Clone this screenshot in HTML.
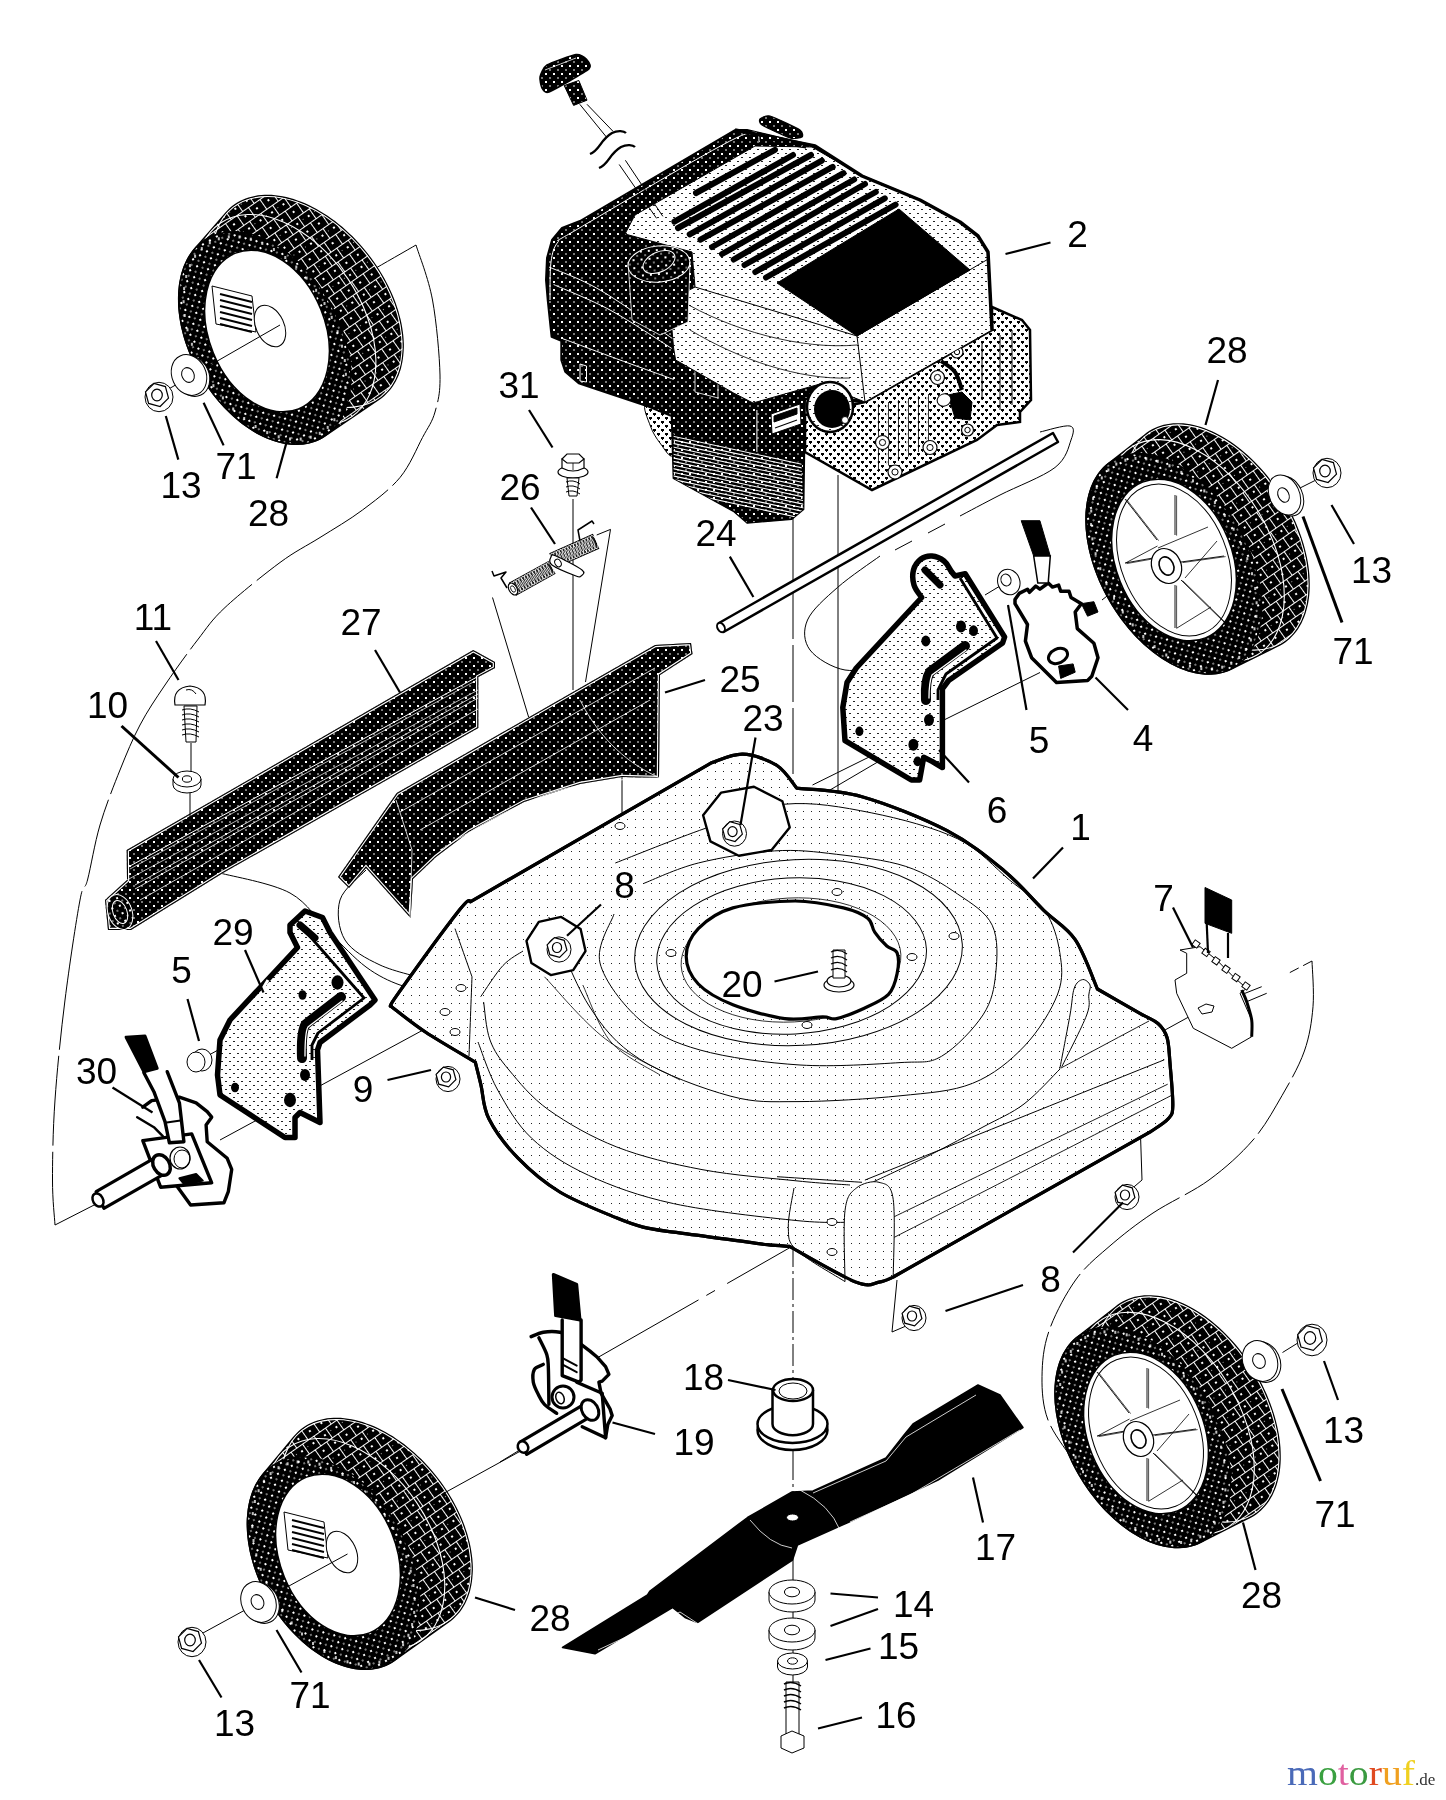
<!DOCTYPE html><html><head><meta charset="utf-8"><style>html,body{margin:0;padding:0;background:#fff;overflow:hidden}svg{display:block;transform:translateZ(0)}</style></head><body><svg width="1446" height="1800" viewBox="0 0 1446 1800">
<defs>
 <pattern id="dk" width="8" height="8" patternUnits="userSpaceOnUse">
  <rect width="8" height="8" fill="#000"/>
  <rect x="1" y="1" width="2" height="2" fill="#fff"/>
  <rect x="5" y="5" width="2" height="2" fill="#777"/>
 </pattern>
 <pattern id="lt" width="8" height="8" patternUnits="userSpaceOnUse">
  <rect width="8" height="8" fill="#fff"/>
  <rect x="3" y="3" width="1" height="1" fill="#222"/>
 </pattern>
 <pattern id="md" width="8" height="8" patternUnits="userSpaceOnUse">
  <rect width="8" height="8" fill="#fff"/>
  <rect x="1" y="1" width="2" height="1" fill="#222"/>
  <rect x="5" y="5" width="2" height="1" fill="#222"/>
 </pattern>
 <pattern id="hb" width="8" height="8" patternUnits="userSpaceOnUse">
  <rect width="8" height="8" fill="#fff"/>
  <path d="M1,1 h3 v2 h-1 v1 h-1 v-1 h-1 z M5,5 h3 v2 h-1 v1 h-1 v-1 h-1 z" fill="#000"/>
 </pattern>
 <pattern id="trd" width="14" height="24" patternUnits="userSpaceOnUse" patternTransform="rotate(-35)">
  <rect width="14" height="24" fill="#000"/>
  <path d="M0,0.5 H14 M0,12.5 H14 M0.5,0 V12 M7.5,12 V24" stroke="#fff" stroke-width="1"/>
  <rect x="6" y="5" width="2" height="2" fill="#fff"/>
  <rect x="2" y="17" width="2" height="2" fill="#fff"/>
  <rect x="10" y="17" width="1" height="1" fill="#aaa"/>
 </pattern>
 <pattern id="tr" width="8" height="8" patternUnits="userSpaceOnUse">
  <rect width="8" height="8" fill="#000"/>
  <rect x="2" y="2" width="1" height="1" fill="#fff"/>
  <rect x="6" y="6" width="1" height="1" fill="#888"/>
 </pattern>
</defs>
<rect width="1446" height="1800" fill="#fff"/><path d="M372.5,270.0 C379.8,265.8 408.8,249.2 416.0,245.0" stroke="#000" stroke-width="1" fill="none"/><path d="M416.0,245.0 C418.8,254.2 428.5,278.3 432.5,300.0 C436.5,321.7 439.6,356.3 440.0,375.0 C440.4,393.7 437.9,401.6 435.0,412.0 C432.1,422.4 428.3,426.6 422.5,437.5 C416.7,448.4 410.0,465.4 400.0,477.5 C390.0,489.6 375.8,500.0 362.5,510.0 C349.2,520.0 333.8,528.8 320.0,537.5 C306.2,546.2 295.8,550.8 280.0,562.5 C264.2,574.2 238.8,594.6 225.0,607.5 C211.2,620.4 207.5,627.1 197.5,640.0 C187.5,652.9 174.6,670.8 165.0,685.0 C155.4,699.2 147.5,710.8 140.0,725.0 C132.5,739.2 126.7,753.3 120.0,770.0 C113.3,786.7 105.4,806.7 100.0,825.0 C94.6,843.3 90.8,867.5 87.5,880.0 C84.2,892.5 83.8,880.0 80.0,900.0 C76.2,920.0 69.2,966.7 65.0,1000.0 C60.8,1033.3 57.1,1070.0 55.0,1100.0 C52.9,1130.0 52.5,1159.2 52.5,1180.0 C52.5,1200.8 54.6,1217.5 55.0,1225.0" stroke="#000" stroke-width="1" fill="none" stroke-dasharray="160,6,90,6"/><path d="M55,1225 L100,1202" stroke="#000" stroke-width="1" fill="none"/><path d="M1312.0,961.0 C1312.2,968.6 1314.3,991.7 1313.0,1006.7 C1311.7,1021.7 1309.6,1036.2 1304.4,1051.0 C1299.2,1065.8 1290.6,1080.8 1282.0,1095.6 C1273.4,1110.4 1265.2,1125.9 1253.0,1140.0 C1240.8,1154.1 1225.7,1167.8 1209.0,1180.0 C1192.3,1192.2 1169.7,1201.9 1153.0,1213.0 C1136.3,1224.1 1121.9,1235.5 1109.0,1246.7 C1096.1,1257.9 1085.6,1266.0 1075.6,1280.0 C1065.6,1294.0 1054.6,1314.9 1049.0,1331.0 C1043.4,1347.1 1042.2,1361.8 1042.0,1376.6 C1041.8,1391.4 1042.8,1406.1 1048.0,1420.0 C1053.2,1433.9 1068.8,1453.3 1073.0,1460.0" stroke="#000" stroke-width="1" fill="none" stroke-dasharray="120,6,60,6,90,6"/><path d="M1312,961 L1289,973" stroke="#000" stroke-width="1" fill="none" stroke-dasharray="10,5"/><path d="M1165,1030 L1216,1002" stroke="#000" stroke-width="1" fill="none"/><path d="M793,515 L793,1245" stroke="#000" stroke-width="1" fill="none" stroke-dasharray="124,6,57,6,66,6,1000"/><path d="M793,1245 L793,1380" stroke="#000" stroke-width="1" fill="none" stroke-dasharray="22,4,3,4"/><path d="M793,1440 L793,1690" stroke="#000" stroke-width="1" fill="none" stroke-dasharray="40,4,3,4"/><path d="M838,475 L838,955" stroke="#000" stroke-width="1" fill="none"/><path d="M573,499 L573,690" stroke="#000" stroke-width="1" fill="none"/><path d="M622,774 L622,829" stroke="#000" stroke-width="1" fill="none"/><ellipse cx="621.0" cy="829.0" rx="6.0" ry="3.0" transform="rotate(0 621.0 829.0)" fill="#fff" stroke="#000" stroke-width="1" /><path d="M492.5,597.5 L528.6,717" stroke="#000" stroke-width="1" fill="none"/><path d="M596.7,535 L610.5,529.4 L585.5,682" stroke="#000" stroke-width="1" fill="none"/><path d="M1040.0,432.0 C1045.0,431.0 1064.8,424.7 1070.0,426.0 C1075.2,427.3 1073.5,433.1 1071.0,440.0 C1068.5,446.9 1066.8,458.3 1055.0,467.5 C1043.2,476.7 1015.8,486.9 1000.0,495.0 C984.2,503.1 966.7,512.5 960.0,516.0" stroke="#000" stroke-width="1" fill="none"/><path d="M945,524 L928,533 M912,541 L895,550" stroke="#000" stroke-width="1" fill="none"/><path d="M880.0,556.0 C872.9,561.2 849.6,576.8 837.5,587.5 C825.4,598.2 812.1,609.6 807.5,620.0 C802.9,630.4 803.8,641.7 810.0,650.0 C816.2,658.3 832.5,667.9 845.0,670.0 C857.5,672.1 871.7,667.1 885.0,662.5 C898.3,657.9 918.3,645.8 925.0,642.5" stroke="#000" stroke-width="1" fill="none"/><path d="M1000,586 L985,595" stroke="#000" stroke-width="1" fill="none"/><path d="M1040,672.5 L812.5,785" stroke="#000" stroke-width="1" fill="none"/><path d="M945,722.5 L830,790" stroke="#000" stroke-width="1" fill="none"/><path d="M1102,600 L1140,570" stroke="#000" stroke-width="1" fill="none"/><path d="M220,1140 L460,1010" stroke="#000" stroke-width="1" fill="none"/><path d="M209,1055 L300,1005" stroke="#000" stroke-width="1" fill="none"/><path d="M598.7,1357 L789.6,1247.8" stroke="#000" stroke-width="1" fill="none" stroke-dasharray="115,9,10,14,70,0"/><path d="M500,1462 L523,1448" stroke="#000" stroke-width="1" fill="none"/><path d="M220.0,873.0 C231.7,876.3 271.7,883.0 290.0,893.0 C308.3,903.0 317.3,920.7 330.0,933.0 C342.7,945.3 354.3,958.3 366.0,967.0 C377.7,975.7 389.3,981.2 400.0,985.0 C410.7,988.8 425.0,989.2 430.0,990.0" stroke="#000" stroke-width="1" fill="none"/><path d="M366.0,870.0 C361.7,875.0 343.5,888.3 340.0,900.0 C336.5,911.7 338.3,929.2 345.0,940.0 C351.7,950.8 365.8,958.3 380.0,965.0 C394.2,971.7 421.7,977.5 430.0,980.0" stroke="#000" stroke-width="1" fill="none"/><path d="M1140,1120 L1142,1180 L1128,1192" stroke="#000" stroke-width="1" fill="none"/><path d="M897,1280 L892,1332 L906,1326" stroke="#000" stroke-width="1" fill="none"/><path d="M790,1248 L834,1223" stroke="#000" stroke-width="1" fill="none"/><ellipse cx="809.0" cy="1238.0" rx="3.0" ry="3.0" transform="rotate(0 809.0 1238.0)" fill="#fff" stroke="#000" stroke-width="1" /><path d="M391.3,1006.5 C392.3,1004.6 385.7,1011.3 397.0,995.2 C408.4,979.1 447.1,925.7 459.4,910.1 C471.7,894.5 468.8,903.0 470.7,901.6 L470.7,901.6 C510.9,878.5 671.6,785.8 711.7,762.7 L711.7,762.7 C716.9,761.3 732.1,753.7 742.9,754.2 C753.8,754.6 768.0,759.8 777.0,765.5 C785.9,771.2 793.5,784.4 796.8,788.2 L796.8,788.2 C807.7,789.6 837.0,789.6 862.0,796.7 C887.1,803.8 923.5,818.4 947.1,830.7 C970.7,843.0 987.7,857.2 1003.8,870.4 C1019.9,883.7 1031.6,898.6 1043.5,910.1 C1055.4,921.7 1066.3,926.5 1075.2,939.6 C1084.2,952.8 1093.7,980.7 1097.4,989.0 L1097.4,989.0 C1104.5,993.0 1129.8,1007.6 1139.9,1013.3 C1150.0,1019.1 1153.5,1019.5 1158.0,1023.5 C1162.6,1027.6 1165.1,1031.1 1167.1,1037.7 C1169.1,1044.3 1169.0,1051.9 1170.0,1063.2 C1170.9,1074.6 1173.1,1096.5 1172.8,1105.8 C1172.5,1115.0 1171.8,1114.6 1168.2,1118.8 C1164.7,1123.1 1154.1,1129.2 1151.2,1131.3 L1151.2,1131.3 C1108.2,1155.6 936.2,1252.7 893.2,1277.0 L893.2,1277.0 C890.9,1277.9 885.3,1281.3 879.0,1282.1 C872.8,1283.0 870.7,1288.1 855.8,1282.1 C840.9,1276.2 800.5,1252.4 789.4,1246.4 L789.4,1246.4 C785.8,1246.1 777.2,1245.8 767.3,1244.7 C757.4,1243.6 745.5,1241.7 729.9,1239.6 C714.3,1237.5 688.2,1234.3 673.8,1232.2 C659.3,1230.2 652.6,1229.5 643.1,1227.1 C633.7,1224.8 630.9,1223.9 617.0,1218.1 C603.1,1212.2 576.3,1202.0 559.8,1192.0 C543.2,1181.9 529.6,1170.1 517.8,1157.9 C506.0,1145.8 495.0,1131.0 488.9,1118.8 C482.7,1106.6 483.2,1094.2 480.9,1084.8 C478.7,1075.3 476.2,1065.9 475.3,1062.1 L475.3,1062.1 C467.0,1057.1 439.4,1041.3 425.4,1032.0 C411.4,1022.8 397.0,1010.8 391.3,1006.5 Z" fill="url(#lt)" stroke="#000" stroke-width="3.2" stroke-linejoin="round"/><path d="M478.0,1042.0 C481.3,1050.0 488.7,1073.9 497.7,1090.0 C506.7,1106.1 516.7,1124.2 531.8,1138.4 C546.9,1152.6 564.9,1164.4 588.5,1175.3 C612.1,1186.2 638.6,1196.0 673.5,1203.6 C708.4,1211.2 766.9,1217.6 798.0,1220.7 C829.1,1223.8 849.7,1221.8 860.0,1222.0" fill="none" stroke="#000" stroke-width="1" /><path d="M483.6,1002.0 C484.7,1008.3 485.8,1028.7 490.0,1040.0 C494.2,1051.3 499.2,1058.3 509.0,1070.0 C518.8,1081.7 530.8,1097.2 548.8,1110.0 C566.8,1122.8 591.3,1137.1 616.8,1147.0 C642.3,1156.9 671.8,1163.9 702.0,1169.6 C732.2,1175.3 773.3,1178.4 798.0,1181.0 C822.7,1183.6 841.3,1184.3 850.0,1185.0" fill="none" stroke="#000" stroke-width="1" /><path d="M472.0,976.8 C471.5,990.0 469.5,1042.8 469.0,1056.0" fill="none" stroke="#000" stroke-width="1" /><path d="M455.0,928.6 C457.8,936.6 469.2,968.8 472.0,976.8" fill="none" stroke="#000" stroke-width="1" /><path d="M480.7,996.7 C484.4,991.5 495.9,973.1 503.0,965.5 C510.1,957.9 519.7,953.4 523.0,951.0" fill="none" stroke="#000" stroke-width="1" /><path d="M864.9,1180.1 C914.8,1160.0 1114.4,1079.9 1164.3,1059.8" fill="none" stroke="#000" stroke-width="1" /><path d="M892.6,1217.5 C938.5,1195.3 1121.8,1106.4 1167.7,1084.2" fill="none" stroke="#000" stroke-width="0.9" /><path d="M889.8,1239.6 C936.7,1215.6 1124.2,1119.6 1171.1,1095.6" fill="none" stroke="#000" stroke-width="0.9" /><path d="M1061.0,1068.0 C1075.7,1060.2 1134.3,1028.8 1149.0,1021.0" fill="none" stroke="#000" stroke-width="0.9" /><path d="M1059.8,1068.8 C1061.5,1059.8 1067.6,1028.5 1070.0,1015.0 C1072.4,1001.5 1072.2,993.9 1074.3,988.0 C1076.4,982.1 1080.0,980.1 1082.6,979.6 C1085.2,979.1 1089.0,982.4 1090.0,985.0 C1091.0,987.6 1089.3,990.0 1088.8,995.0 C1088.2,1000.0 1091.2,1003.0 1086.7,1015.0 C1082.2,1027.0 1066.0,1058.1 1061.8,1066.7" fill="none" stroke="#000" stroke-width="1" /><path d="M1060.0,1069.0 C1054.0,1074.8 1036.8,1094.3 1024.0,1104.0 C1011.2,1113.7 998.7,1118.5 983.0,1127.0 C967.3,1135.5 948.3,1145.8 930.0,1155.0 C911.7,1164.2 882.5,1177.5 873.0,1182.0" fill="none" stroke="#000" stroke-width="1" /><path d="M548.8,917.0 C555.4,931.7 573.4,981.3 588.5,1005.0 C603.6,1028.7 615.9,1043.8 639.5,1059.0 C663.1,1074.2 703.6,1088.9 730.0,1096.0 C756.4,1103.1 769.7,1101.6 798.0,1101.6 C826.3,1101.6 870.9,1098.8 900.0,1095.8 C929.1,1092.8 951.9,1091.6 972.6,1083.3 C993.4,1075.0 1010.3,1060.9 1024.5,1046.0 C1038.7,1031.1 1051.8,1009.6 1057.7,994.0 C1063.6,978.4 1061.9,966.4 1059.8,952.6 C1057.7,938.8 1053.4,923.1 1045.0,911.0 C1036.6,898.9 1024.1,892.0 1009.5,880.0 C994.9,868.0 980.6,850.0 957.6,838.8 C934.6,827.6 900.0,818.6 871.2,812.8 C842.4,807.0 812.5,801.6 784.8,804.2 C757.1,806.8 733.5,818.6 705.2,828.4 C677.0,838.2 630.3,857.2 615.3,863.0" fill="none" stroke="#000" stroke-width="1" /><path d="M643.0,883.7 C652.2,880.2 676.4,868.5 698.3,863.0 C720.2,857.5 751.3,852.4 774.4,850.9 C797.5,849.4 814.7,851.7 836.6,854.3 C858.5,856.9 885.6,859.8 905.8,866.4 C926.0,873.0 943.2,884.2 957.6,894.0 C972.0,903.8 985.9,911.9 992.2,925.2 C998.6,938.5 997.2,958.7 995.7,973.6 C994.2,988.5 992.0,1001.1 983.0,1014.9 C974.0,1028.7 955.3,1048.3 941.5,1056.3 C927.7,1064.2 923.6,1061.1 900.0,1062.6 C876.4,1064.0 833.3,1067.1 800.0,1065.0 C766.7,1062.9 726.7,1057.5 700.0,1050.0 C673.3,1042.5 656.7,1034.5 640.0,1020.0 C623.3,1005.5 604.3,980.7 600.0,963.0 C595.7,945.3 611.7,922.2 614.0,914.0" fill="none" stroke="#000" stroke-width="1" /><ellipse cx="798.5" cy="952.5" rx="164.0" ry="93.0" transform="rotate(-3 798.5 952.5)" fill="none" stroke="#000" stroke-width="1" /><ellipse cx="791.6" cy="956.0" rx="135.0" ry="78.0" transform="rotate(-3 791.6 956.0)" fill="none" stroke="#000" stroke-width="1" /><ellipse cx="791.0" cy="960.0" rx="110.0" ry="62.0" transform="rotate(-3 791.0 960.0)" fill="none" stroke="#000" stroke-width="0.8" /><path d="M582.8,985.0 C587.5,994.5 598.1,1027.0 611.0,1042.0 C623.9,1057.0 651.8,1069.5 660.0,1075.0" fill="none" stroke="#000" stroke-width="0.8" /><path d="M544.5,976.8 C554.7,987.2 582.9,1021.8 605.5,1039.0 C628.1,1056.2 667.6,1073.2 680.0,1080.0" fill="none" stroke="#000" stroke-width="0.8" /><path d="M686.2,956.3 C686.2,947.1 690.5,936.8 698.3,928.7 C706.1,920.6 716.8,912.5 732.9,907.9 C749.0,903.3 776.7,901.0 795.1,901.0 C813.6,901.0 831.4,905.1 843.5,907.9 C855.6,910.8 862.6,914.3 867.7,918.3 C872.9,922.3 871.5,927.5 874.7,932.1 C877.8,936.8 883.0,942.5 886.8,946.0 C890.5,949.4 895.4,948.3 897.1,952.9 C898.9,957.5 898.6,966.7 897.1,973.6 C895.7,980.6 894.0,988.6 888.5,994.4 C883.0,1000.1 872.9,1004.2 864.3,1008.2 C855.6,1012.2 843.5,1017.1 836.6,1018.6 C829.7,1020.0 831.4,1016.9 822.8,1016.9 C814.1,1016.9 799.7,1020.6 784.8,1018.6 C769.8,1016.6 747.3,1010.5 732.9,1004.8 C718.5,999.0 706.1,992.1 698.3,984.0 C690.5,975.9 686.2,965.6 686.2,956.3 Z" fill="#fff" stroke="#000" stroke-width="3.2" /><path d="M845.0,1281.6 C845.0,1269.8 843.1,1226.3 845.0,1210.7 C846.9,1195.1 850.7,1192.7 856.4,1188.0 C862.0,1183.3 872.9,1180.4 879.0,1182.3 C885.2,1184.2 890.9,1183.3 893.2,1199.3 C895.6,1215.4 893.2,1265.5 893.2,1278.7" fill="url(#lt)" stroke="#000" stroke-width="1" /><path d="M794.0,1188.0 C793.0,1194.6 787.8,1217.3 788.3,1227.7 C788.8,1238.1 787.4,1241.4 796.8,1250.4 C806.3,1259.4 837.0,1276.4 845.0,1281.6" fill="none" stroke="#000" stroke-width="1" /><path d="M777.0,1176.7 C791.1,1177.6 847.8,1181.4 862.0,1182.3" fill="none" stroke="#000" stroke-width="1" /><path d="M391.3,1006.5 C392.3,1004.6 385.7,1011.3 397.0,995.2 C408.4,979.1 447.1,925.7 459.4,910.1 C471.7,894.5 468.8,903.0 470.7,901.6 L470.7,901.6 C510.9,878.5 671.6,785.8 711.7,762.7 L711.7,762.7 C716.9,761.3 732.1,753.7 742.9,754.2 C753.8,754.6 768.0,759.8 777.0,765.5 C785.9,771.2 793.5,784.4 796.8,788.2 L796.8,788.2 C807.7,789.6 837.0,789.6 862.0,796.7 C887.1,803.8 923.5,818.4 947.1,830.7 C970.7,843.0 987.7,857.2 1003.8,870.4 C1019.9,883.7 1031.6,898.6 1043.5,910.1 C1055.4,921.7 1066.3,926.5 1075.2,939.6 C1084.2,952.8 1093.7,980.7 1097.4,989.0 L1097.4,989.0 C1104.5,993.0 1129.8,1007.6 1139.9,1013.3 C1150.0,1019.1 1153.5,1019.5 1158.0,1023.5 C1162.6,1027.6 1165.1,1031.1 1167.1,1037.7 C1169.1,1044.3 1169.0,1051.9 1170.0,1063.2 C1170.9,1074.6 1173.1,1096.5 1172.8,1105.8 C1172.5,1115.0 1171.8,1114.6 1168.2,1118.8 C1164.7,1123.1 1154.1,1129.2 1151.2,1131.3 L1151.2,1131.3 C1108.2,1155.6 936.2,1252.7 893.2,1277.0 L893.2,1277.0 C890.9,1277.9 885.3,1281.3 879.0,1282.1 C872.8,1283.0 870.7,1288.1 855.8,1282.1 C840.9,1276.2 800.5,1252.4 789.4,1246.4 L789.4,1246.4 C785.8,1246.1 777.2,1245.8 767.3,1244.7 C757.4,1243.6 745.5,1241.7 729.9,1239.6 C714.3,1237.5 688.2,1234.3 673.8,1232.2 C659.3,1230.2 652.6,1229.5 643.1,1227.1 C633.7,1224.8 630.9,1223.9 617.0,1218.1 C603.1,1212.2 576.3,1202.0 559.8,1192.0 C543.2,1181.9 529.6,1170.1 517.8,1157.9 C506.0,1145.8 495.0,1131.0 488.9,1118.8 C482.7,1106.6 483.2,1094.2 480.9,1084.8 C478.7,1075.3 476.2,1065.9 475.3,1062.1 L475.3,1062.1 C467.0,1057.1 439.4,1041.3 425.4,1032.0 C411.4,1022.8 397.0,1010.8 391.3,1006.5 Z" fill="none" stroke="#000" stroke-width="3.2" stroke-linejoin="round"/><path d="M789.7,827.4 L771.6,850.0 L738.8,855.8 L710.4,841.4 L703.1,815.2 L721.2,792.6 L754.0,786.8 L782.4,801.2 Z" fill="#fff" stroke="#000" stroke-width="2.4" stroke-linejoin="round"/><ellipse cx="734.5" cy="833.6" rx="12.0" ry="12.6" transform="rotate(0 734.5 833.6)" fill="#fff" stroke="#000" stroke-width="1" /><path d="M742.4,834.2 L735.1,841.5 L725.3,838.8 L722.6,829.0 L729.9,821.7 L739.7,824.4 Z" fill="#fff" stroke="#000" stroke-width="1.2" /><ellipse cx="732.5" cy="831.6" rx="4.6" ry="5.0" transform="rotate(0 732.5 831.6)" fill="#fff" stroke="#000" stroke-width="1.2" /><path d="M585.5,951.1 L573.2,970.2 L550.8,975.1 L531.4,962.9 L526.5,940.9 L538.8,921.8 L561.2,916.9 L580.6,929.1 Z" fill="#fff" stroke="#000" stroke-width="2.4" stroke-linejoin="round"/><ellipse cx="559.0" cy="949.5" rx="12.0" ry="12.6" transform="rotate(0 559.0 949.5)" fill="#fff" stroke="#000" stroke-width="1" /><path d="M566.9,950.1 L559.6,957.4 L549.8,954.7 L547.1,944.9 L554.4,937.6 L564.2,940.3 Z" fill="#fff" stroke="#000" stroke-width="1.2" /><ellipse cx="557.0" cy="947.5" rx="4.6" ry="5.0" transform="rotate(0 557.0 947.5)" fill="#fff" stroke="#000" stroke-width="1.2" /><ellipse cx="620.0" cy="826.0" rx="5.0" ry="3.5" transform="rotate(0 620.0 826.0)" fill="#fff" stroke="#000" stroke-width="1" /><ellipse cx="837.0" cy="892.0" rx="5.0" ry="3.5" transform="rotate(0 837.0 892.0)" fill="#fff" stroke="#000" stroke-width="1" /><ellipse cx="671.0" cy="953.0" rx="5.0" ry="3.5" transform="rotate(0 671.0 953.0)" fill="#fff" stroke="#000" stroke-width="1" /><ellipse cx="954.0" cy="936.0" rx="5.0" ry="3.5" transform="rotate(0 954.0 936.0)" fill="#fff" stroke="#000" stroke-width="1" /><ellipse cx="912.0" cy="957.0" rx="5.0" ry="3.5" transform="rotate(0 912.0 957.0)" fill="#fff" stroke="#000" stroke-width="1" /><ellipse cx="807.0" cy="1025.0" rx="5.0" ry="3.5" transform="rotate(0 807.0 1025.0)" fill="#fff" stroke="#000" stroke-width="1" /><ellipse cx="461.0" cy="988.0" rx="5.0" ry="3.5" transform="rotate(0 461.0 988.0)" fill="#fff" stroke="#000" stroke-width="1" /><ellipse cx="445.0" cy="1012.0" rx="5.0" ry="3.5" transform="rotate(0 445.0 1012.0)" fill="#fff" stroke="#000" stroke-width="1" /><ellipse cx="455.0" cy="1032.0" rx="5.0" ry="3.5" transform="rotate(0 455.0 1032.0)" fill="#fff" stroke="#000" stroke-width="1" /><ellipse cx="832.0" cy="1222.0" rx="5.0" ry="3.5" transform="rotate(0 832.0 1222.0)" fill="#fff" stroke="#000" stroke-width="1" /><ellipse cx="832.0" cy="1252.0" rx="5.0" ry="3.5" transform="rotate(0 832.0 1252.0)" fill="#fff" stroke="#000" stroke-width="1" /><clipPath id="cpflap"><path d="M126.7,850.0 L473.3,650.0 L495.0,662.0 L495.0,668.0 L478.3,677.0 L478.3,728.0 L223.0,873.0 L131.0,930.0 L108.0,930.0 L105.0,900.0 L127.0,880.0 Z"/></clipPath><path d="M126.7,850.0 L473.3,650.0 L495.0,662.0 L495.0,668.0 L478.3,677.0 L478.3,728.0 L223.0,873.0 L131.0,930.0 L108.0,930.0 L105.0,900.0 L127.0,880.0 Z" fill="url(#dk)" stroke="none" stroke-width="0" /><g clip-path="url(#cpflap)"><path d="M126.7,850.0 L473.3,650.0 L495.0,662.0 L495.0,668.0 L478.3,677.0 L478.3,728.0 L223.0,873.0 L131.0,930.0 L108.0,930.0 L105.0,900.0 L127.0,880.0 Z" fill="none" stroke="#fff" stroke-width="4.5" /><path d="M126.7,850.0 L473.3,650.0 L495.0,662.0 L495.0,668.0 L478.3,677.0 L478.3,728.0 L223.0,873.0 L131.0,930.0 L108.0,930.0 L105.0,900.0 L127.0,880.0 Z" fill="none" stroke="#000" stroke-width="2.2" /></g><line x1="130.0" y1="866.0" x2="477.0" y2="677.0" stroke="#fff" stroke-width="1" /><line x1="130.0" y1="869.0" x2="477.0" y2="680.0" stroke="#fff" stroke-width="0.7" /><line x1="135.0" y1="885.0" x2="478.0" y2="694.0" stroke="#fff" stroke-width="0.8" /><line x1="135.0" y1="889.0" x2="478.0" y2="698.0" stroke="#fff" stroke-width="0.8" /><line x1="140.0" y1="900.0" x2="478.0" y2="709.0" stroke="#fff" stroke-width="0.8" /><line x1="127.0" y1="880.0" x2="478.0" y2="690.0" stroke="#fff" stroke-width="0.7" /><ellipse cx="120.0" cy="912.0" rx="12.0" ry="18.0" transform="rotate(-20 120.0 912.0)" fill="url(#dk)" stroke="#fff" stroke-width="1" /><ellipse cx="120.0" cy="912.0" rx="7.0" ry="12.0" transform="rotate(-20 120.0 912.0)" fill="none" stroke="#fff" stroke-width="1" /><clipPath id="cpshield"><path d="M396.7,793.0 L655.0,645.0 L691.0,643.0 L692.5,654.0 L660.0,675.0 L659.0,778.0 L622.0,777.0 L580.0,784.0 L524.0,802.0 L469.0,832.0 L436.0,857.0 L413.0,879.0 L410.6,918.0 L366.0,868.0 L349.0,888.0 L338.0,877.0 Z"/></clipPath><path d="M396.7,793.0 L655.0,645.0 L691.0,643.0 L692.5,654.0 L660.0,675.0 L659.0,778.0 L622.0,777.0 L580.0,784.0 L524.0,802.0 L469.0,832.0 L436.0,857.0 L413.0,879.0 L410.6,918.0 L366.0,868.0 L349.0,888.0 L338.0,877.0 Z" fill="url(#dk)" stroke="none" stroke-width="0" /><g clip-path="url(#cpshield)"><path d="M396.7,793.0 L655.0,645.0 L691.0,643.0 L692.5,654.0 L660.0,675.0 L659.0,778.0 L622.0,777.0 L580.0,784.0 L524.0,802.0 L469.0,832.0 L436.0,857.0 L413.0,879.0 L410.6,918.0 L366.0,868.0 L349.0,888.0 L338.0,877.0 Z" fill="none" stroke="#fff" stroke-width="4.5" /><path d="M396.7,793.0 L655.0,645.0 L691.0,643.0 L692.5,654.0 L660.0,675.0 L659.0,778.0 L622.0,777.0 L580.0,784.0 L524.0,802.0 L469.0,832.0 L436.0,857.0 L413.0,879.0 L410.6,918.0 L366.0,868.0 L349.0,888.0 L338.0,877.0 Z" fill="none" stroke="#000" stroke-width="2.2" /></g><line x1="400.0" y1="812.0" x2="655.0" y2="668.0" stroke="#fff" stroke-width="0.8" /><line x1="420.0" y1="830.0" x2="650.0" y2="700.0" stroke="#fff" stroke-width="0.8" /><path d="M440.0,850.0 C450.0,844.2 480.0,825.0 500.0,815.0 C520.0,805.0 540.0,795.8 560.0,790.0 C580.0,784.2 603.7,782.0 620.0,780.0 C636.3,778.0 651.7,778.3 658.0,778.0" fill="none" stroke="#fff" stroke-width="0.8" /><path d="M410,918 L412,850 L396,800" fill="none" stroke="#fff" stroke-width="0.8" /><path d="M580,700 C600,740 630,765 660,778" fill="none" stroke="#fff" stroke-width="0.8" /><path d="M646.0,404.0 C641.7,406.0 648.1,419.5 650.4,426.0 C652.7,432.5 656.2,438.2 660.0,443.0 C663.8,447.8 670.3,459.8 673.0,455.0 C675.7,450.2 680.5,422.5 676.0,414.0 C671.5,405.5 650.3,402.0 646.0,404.0 Z" fill="url(#hb)" stroke="#000" stroke-width="1" /><path d="M546.0,280.0 L547.0,258.0 L552.0,240.0 L562.0,228.0 L580.0,221.0 L735.0,130.0 L747.0,130.0 L815.0,146.0 L862.0,176.0 L920.0,200.0 L960.0,222.0 L978.0,236.0 L988.0,252.0 L992.0,330.0 L865.0,402.0 L805.0,399.0 L803.4,509.2 L791.7,518.9 L747.2,522.7 L733.6,511.1 L673.6,478.2 L671.7,416.2 L648.4,406.5 L607.8,393.0 L578.7,383.3 L565.2,371.7 L561.3,360.0 L561.3,340.7 L551.6,336.8 L547.7,300.0 Z" fill="url(#dk)" stroke="#000" stroke-width="2" stroke-linejoin="round"/><path d="M550.0,300.0 C550.2,293.7 549.7,271.7 551.0,262.0 C552.3,252.3 553.8,247.3 558.0,242.0 C562.2,236.7 546.3,247.3 576.0,230.0 C605.7,212.7 705.3,152.7 736.0,138.0 C766.7,123.3 756.0,141.3 760.0,142.0" fill="none" stroke="#fff" stroke-width="1" /><path d="M549.0,267.0 C557.5,270.8 578.9,277.7 600.0,290.0 C621.1,302.3 663.0,332.2 675.6,340.7" fill="none" stroke="#fff" stroke-width="1" /><path d="M553.6,284.5 C563.0,288.8 590.3,299.4 610.0,310.0 C629.7,320.6 661.4,342.0 671.7,348.4" fill="none" stroke="#fff" stroke-width="1" /><path d="M563.0,338.8 C572.5,342.3 601.6,353.2 620.0,360.0 C638.4,366.8 664.7,376.2 673.6,379.4" fill="none" stroke="#fff" stroke-width="1" /><path d="M580,364 L586.5,366 L586.5,382 L580,381 Z" fill="none" stroke="#fff" stroke-width="1" /><line x1="756.9" y1="410.0" x2="756.9" y2="466.6" stroke="#fff" stroke-width="1" /><path d="M771.0,414.0 L800.0,404.0 L801.0,424.0 L772.0,434.0 Z" fill="#fff" stroke="#000" stroke-width="1" /><path d="M774.0,416.0 L797.0,408.0 L797.0,414.0 L774.0,422.0 Z" fill="#000" stroke="#000" stroke-width="1" /><line x1="775.0" y1="428.0" x2="797.0" y2="420.0" stroke="#000" stroke-width="1.2" /><path d="M695.0,365.0 L718.0,372.0 L718.0,398.0 L695.0,392.0 Z" fill="url(#dk)" stroke="#fff" stroke-width="0.8" /><path d="M805.0,415.0 L865.0,402.0 L992.0,330.0 L992.0,307.0 L1022.0,320.0 L1030.0,330.0 L1031.0,400.0 L1020.0,412.0 L1020.0,422.0 L997.0,425.0 L977.0,440.0 L872.0,490.0 L805.0,452.0 Z" fill="url(#hb)" stroke="#000" stroke-width="2.5" /><path d="M877.0,404.0 L877.0,470.0" fill="none" stroke="#fff" stroke-width="1.6" /><path d="M878.5,404.0 L878.5,470.0" fill="none" stroke="#000" stroke-width="0.8" /><path d="M887.0,402.0 L887.0,465.5" fill="none" stroke="#fff" stroke-width="1.6" /><path d="M888.5,402.0 L888.5,465.5" fill="none" stroke="#000" stroke-width="0.8" /><path d="M897.0,400.0 L897.0,461.0" fill="none" stroke="#fff" stroke-width="1.6" /><path d="M898.5,400.0 L898.5,461.0" fill="none" stroke="#000" stroke-width="0.8" /><path d="M907.0,398.0 L907.0,456.5" fill="none" stroke="#fff" stroke-width="1.6" /><path d="M908.5,398.0 L908.5,456.5" fill="none" stroke="#000" stroke-width="0.8" /><path d="M917.0,396.0 L917.0,452.0" fill="none" stroke="#fff" stroke-width="1.6" /><path d="M918.5,396.0 L918.5,452.0" fill="none" stroke="#000" stroke-width="0.8" /><path d="M927.0,394.0 L927.0,447.5" fill="none" stroke="#fff" stroke-width="1.6" /><path d="M928.5,394.0 L928.5,447.5" fill="none" stroke="#000" stroke-width="0.8" /><ellipse cx="937.5" cy="377.5" rx="7.0" ry="7.0" transform="rotate(0 937.5 377.5)" fill="#fff" stroke="#000" stroke-width="1.2" /><ellipse cx="937.5" cy="377.5" rx="3.1" ry="3.1" transform="rotate(0 937.5 377.5)" fill="none" stroke="#000" stroke-width="1" /><ellipse cx="882.5" cy="442.5" rx="7.0" ry="7.0" transform="rotate(0 882.5 442.5)" fill="#fff" stroke="#000" stroke-width="1.2" /><ellipse cx="882.5" cy="442.5" rx="3.1" ry="3.1" transform="rotate(0 882.5 442.5)" fill="none" stroke="#000" stroke-width="1" /><ellipse cx="895.0" cy="472.0" rx="7.0" ry="7.0" transform="rotate(0 895.0 472.0)" fill="#fff" stroke="#000" stroke-width="1.2" /><ellipse cx="895.0" cy="472.0" rx="3.1" ry="3.1" transform="rotate(0 895.0 472.0)" fill="none" stroke="#000" stroke-width="1" /><ellipse cx="930.0" cy="447.5" rx="7.0" ry="7.0" transform="rotate(0 930.0 447.5)" fill="#fff" stroke="#000" stroke-width="1.2" /><ellipse cx="930.0" cy="447.5" rx="3.1" ry="3.1" transform="rotate(0 930.0 447.5)" fill="none" stroke="#000" stroke-width="1" /><ellipse cx="967.5" cy="430.0" rx="6.0" ry="6.0" transform="rotate(0 967.5 430.0)" fill="#fff" stroke="#000" stroke-width="1.2" /><ellipse cx="967.5" cy="430.0" rx="2.7" ry="2.7" transform="rotate(0 967.5 430.0)" fill="none" stroke="#000" stroke-width="1" /><ellipse cx="957.0" cy="352.0" rx="6.0" ry="6.0" transform="rotate(0 957.0 352.0)" fill="#fff" stroke="#000" stroke-width="1.2" /><ellipse cx="957.0" cy="352.0" rx="2.7" ry="2.7" transform="rotate(0 957.0 352.0)" fill="none" stroke="#000" stroke-width="1" /><path d="M941.0,361.0 C943.3,362.8 951.5,367.2 955.0,372.0 C958.5,376.8 960.8,387.0 962.0,390.0" fill="none" stroke="#000" stroke-width="4" /><path d="M948.0,395.0 L962.0,392.0 L972.0,402.0 L970.0,420.0 L955.0,418.0 Z" fill="#000" stroke="#000" stroke-width="1" /><ellipse cx="944.0" cy="400.0" rx="7.0" ry="6.0" transform="rotate(-20 944.0 400.0)" fill="#fff" stroke="#000" stroke-width="1" /><line x1="982.0" y1="342.0" x2="982.0" y2="400.0" stroke="#000" stroke-width="1" /><line x1="1000.0" y1="335.0" x2="1000.0" y2="410.0" stroke="#000" stroke-width="1" /><line x1="1012.0" y1="330.0" x2="1012.0" y2="405.0" stroke="#000" stroke-width="1" /><path d="M673.6,433.6 L801.4,462.7 L803.4,509.2 L791.7,518.9 L747.2,522.7 L733.6,511.1 L673.6,478.2 Z" fill="url(#dk)" stroke="#000" stroke-width="1" /><clipPath id="cpmuf"><path d="M673.6,433.6 L801.4,462.7 L803.4,509.2 L791.7,518.9 L747.2,522.7 L733.6,511.1 L673.6,478.2 Z"/></clipPath><g clip-path="url(#cpmuf)"><path d="M672.0,436.0 L805.0,465.0" fill="none" stroke="#fff" stroke-width="1.1" /><path d="M672.0,439.6 L805.0,468.6" fill="none" stroke="#fff" stroke-width="1.1" /><path d="M672.0,443.2 L805.0,472.2" fill="none" stroke="#fff" stroke-width="1.1" /><path d="M672.0,446.8 L805.0,475.8" fill="none" stroke="#fff" stroke-width="1.1" /><path d="M672.0,450.4 L805.0,479.4" fill="none" stroke="#fff" stroke-width="1.1" /><path d="M672.0,454.0 L805.0,483.0" fill="none" stroke="#fff" stroke-width="1.1" /><path d="M672.0,457.6 L805.0,486.6" fill="none" stroke="#fff" stroke-width="1.1" /><path d="M672.0,461.2 L805.0,490.2" fill="none" stroke="#fff" stroke-width="1.1" /><path d="M672.0,464.8 L805.0,493.8" fill="none" stroke="#fff" stroke-width="1.1" /><path d="M672.0,468.4 L805.0,497.4" fill="none" stroke="#fff" stroke-width="1.1" /><path d="M672.0,472.0 L805.0,501.0" fill="none" stroke="#fff" stroke-width="1.1" /><path d="M672.0,475.6 L805.0,504.6" fill="none" stroke="#fff" stroke-width="1.1" /><path d="M672.0,479.2 L805.0,508.2" fill="none" stroke="#fff" stroke-width="1.1" /><path d="M672.0,482.8 L805.0,511.8" fill="none" stroke="#fff" stroke-width="1.1" /><path d="M672.0,486.4 L805.0,515.4" fill="none" stroke="#fff" stroke-width="1.1" /><path d="M672.0,490.0 L805.0,519.0" fill="none" stroke="#fff" stroke-width="1.1" /></g><path d="M625.0,234.0 L635.0,215.0 L755.0,146.0 L812.0,147.0 L862.0,176.0 L920.0,200.0 L960.0,222.0 L978.0,236.0 L988.0,252.0 L992.0,330.0 L865.0,402.0 L840.0,392.0 L820.0,384.0 L753.0,403.0 L733.6,393.0 L675.6,360.0 L673.6,348.0 L672.0,330.0 L680.0,295.0 L695.0,287.0 L692.0,252.0 Z" fill="url(#md)" stroke="#000" stroke-width="1" /><path d="M735.0,130.0 L815.0,146.0 L862.0,176.0 L920.0,200.0 L960.0,222.0 L978.0,236.0 L988.0,252.0 L992.0,330.0" fill="none" stroke="#000" stroke-width="3.5" stroke-linejoin="round"/><path d="M695.0,287.0 L857.0,336.0 L990.0,258.0" fill="none" stroke="#000" stroke-width="1" /><path d="M857.0,336.0 L865.0,402.0" fill="none" stroke="#000" stroke-width="1" /><path d="M680,300 C730,330 800,350 857,345" fill="none" stroke="#000" stroke-width="0.8" /><path d="M690,330 C740,360 800,380 850,378" fill="none" stroke="#000" stroke-width="0.8" /><path d="M777.0,283.0 L899.0,209.0 L970.0,270.0 L857.0,336.0 Z" fill="#000" stroke="#000" stroke-width="1" /><line x1="696.0" y1="193.0" x2="775.0" y2="149.8" stroke="#000" stroke-width="6" stroke-linecap="round"/><line x1="674.4" y1="221.7" x2="793.0" y2="155.0" stroke="#000" stroke-width="6" stroke-linecap="round"/><line x1="678.0" y1="228.0" x2="811.0" y2="155.0" stroke="#000" stroke-width="6" stroke-linecap="round"/><line x1="689.7" y1="234.3" x2="821.9" y2="160.6" stroke="#000" stroke-width="6" stroke-linecap="round"/><line x1="700.5" y1="239.7" x2="832.7" y2="166.9" stroke="#000" stroke-width="6" stroke-linecap="round"/><line x1="712.0" y1="247.0" x2="843.5" y2="173.2" stroke="#000" stroke-width="6" stroke-linecap="round"/><line x1="722.0" y1="254.0" x2="854.2" y2="179.5" stroke="#000" stroke-width="6" stroke-linecap="round"/><line x1="733.7" y1="259.5" x2="865.0" y2="184.0" stroke="#000" stroke-width="6" stroke-linecap="round"/><line x1="744.5" y1="265.0" x2="875.8" y2="192.0" stroke="#000" stroke-width="6" stroke-linecap="round"/><line x1="755.3" y1="272.0" x2="884.8" y2="198.3" stroke="#000" stroke-width="6" stroke-linecap="round"/><line x1="766.0" y1="277.5" x2="895.6" y2="204.6" stroke="#000" stroke-width="6" stroke-linecap="round"/><path d="M628.0,262.0 L632.0,320.0 L660.0,335.0 L688.0,322.0 L690.0,262.0 Z" fill="url(#dk)" stroke="#fff" stroke-width="0.8" /><ellipse cx="659.0" cy="264.0" rx="31.0" ry="18.0" transform="rotate(-5 659.0 264.0)" fill="url(#dk)" stroke="#fff" stroke-width="1" /><ellipse cx="659.0" cy="262.0" rx="17.0" ry="10.0" transform="rotate(-25 659.0 262.0)" fill="none" stroke="#fff" stroke-width="1" /><ellipse cx="830.0" cy="407.0" rx="23.0" ry="25.0" transform="rotate(0 830.0 407.0)" fill="url(#md)" stroke="#000" stroke-width="2.5" /><ellipse cx="832.0" cy="409.0" rx="18.0" ry="19.0" transform="rotate(0 832.0 409.0)" fill="#000" stroke="none" stroke-width="1" /><ellipse cx="845.0" cy="420.0" rx="3.5" ry="3.5" transform="rotate(0 845.0 420.0)" fill="#fff" stroke="#000" stroke-width="1" /><path d="M542.0,88.0 C541.1,86.5 539.5,79.3 540.0,77.0 C540.5,74.7 543.4,67.2 547.0,65.0 C550.6,62.8 572.1,55.1 576.0,54.5 C579.9,53.9 584.7,57.2 586.0,58.7 C587.3,60.2 592.7,65.7 589.0,69.0 C585.3,72.3 553.7,90.1 549.0,92.0 C544.3,93.9 542.9,89.5 542.0,88.0 Z" fill="url(#dk)" stroke="#000" stroke-width="1.5" /><path d="M545.0,70.0 C550.2,68.0 570.8,60.0 576.0,58.0" fill="none" stroke="#fff" stroke-width="0.8" /><path d="M564.2,85.6 L578.8,80.5 L587.0,100.2 L573.6,105.4 Z" fill="url(#dk)" stroke="#000" stroke-width="1" /><line x1="579.8" y1="104.3" x2="606.8" y2="137.5" stroke="#000" stroke-width="1" /><line x1="587.0" y1="104.3" x2="613.0" y2="131.3" stroke="#000" stroke-width="1" /><line x1="619.2" y1="164.5" x2="656.6" y2="218.4" stroke="#000" stroke-width="1" /><line x1="625.4" y1="160.3" x2="662.8" y2="216.3" stroke="#000" stroke-width="1" /><path d="M590,154 C600,150 600,140 612,133 C618,130 624,131 626,133" fill="none" stroke="#000" stroke-width="2.4" /><path d="M599,168 C609,164 609,154 621,147 C627,144 633,145 635,147" fill="none" stroke="#000" stroke-width="2.4" /><path d="M760.0,119.0 C760.8,118.1 766.0,114.9 770.0,116.0 C774.0,117.1 796.8,127.9 800.0,130.0 C803.2,132.1 803.0,136.2 802.0,137.0 C801.0,137.8 794.0,139.2 790.0,138.0 C786.0,136.8 765.0,126.9 762.0,125.0 C759.0,123.1 759.2,119.9 760.0,119.0 Z" fill="url(#dk)" stroke="#000" stroke-width="1.2" /><path d="M760.0,133.0 L790.0,140.0 L806.0,148.0 L770.0,142.0 Z" fill="url(#dk)" stroke="#000" stroke-width="1" /><clipPath id="wh1"><path d="M178.7,297.6 L178.8,293.7 L179.0,290.0 L179.4,286.3 L179.9,282.7 L180.6,279.2 L181.3,275.8 L182.2,272.4 L183.3,269.2 L184.4,266.1 L185.7,263.1 L187.1,260.1 L188.6,257.4 L190.3,254.7 L192.0,252.2 L193.9,249.8 L225.9,212.9 L228.0,210.7 L230.2,208.6 L232.5,206.7 L234.9,204.9 L237.5,203.2 L240.2,201.7 L242.9,200.4 L245.8,199.2 L248.7,198.2 L251.8,197.4 L254.9,196.7 L258.1,196.1 L261.4,195.8 L264.8,195.6 L268.2,195.5 L271.6,195.6 L275.2,195.9 L278.8,196.4 L282.4,197.0 L286.1,197.8 L289.8,198.7 L293.5,199.8 L297.2,201.1 L301.0,202.5 L304.8,204.0 L308.5,205.7 L312.3,207.6 L316.1,209.6 L319.8,211.8 L323.5,214.1 L327.2,216.5 L330.9,219.0 L334.6,221.7 L338.1,224.5 L341.7,227.4 L345.2,230.5 L348.6,233.7 L352.0,236.9 L355.3,240.3 L358.5,243.7 L361.6,247.3 L364.7,250.9 L367.7,254.6 L370.6,258.4 L373.3,262.2 L376.0,266.1 L378.6,270.1 L381.0,274.1 L383.4,278.2 L385.6,282.3 L387.7,286.4 L389.7,290.5 L391.6,294.7 L393.3,298.9 L394.9,303.1 L396.3,307.2 L397.7,311.4 L398.8,315.6 L399.9,319.7 L400.8,323.8 L401.5,327.9 L402.1,331.9 L402.6,335.9 L402.9,339.8 L403.1,343.7 L403.1,347.5 L402.9,351.3 L402.6,354.9 L402.2,358.5 L401.6,362.0 L400.9,365.4 L400.1,368.7 L399.0,371.9 L397.9,375.1 L396.6,378.0 L395.2,380.9 L393.6,383.6 L391.9,386.3 L390.1,388.8 L388.1,391.1 L386.0,393.3 L383.8,395.4 L381.5,397.4 L379.1,399.1 L324.7,436.1 L322.2,437.6 L319.7,439.0 L317.0,440.2 L314.3,441.2 L311.5,442.1 L308.6,442.9 L305.7,443.5 L302.7,443.9 L299.6,444.1 L296.5,444.2 L293.4,444.2 L290.1,443.9 L286.9,443.5 L283.6,443.0 L280.3,442.2 L277.0,441.4 L273.6,440.3 L270.2,439.1 L266.9,437.8 L263.5,436.2 L260.1,434.6 L256.7,432.8 L253.4,430.8 L250.0,428.7 L246.7,426.5 L243.4,424.1 L240.2,421.6 L236.9,418.9 L233.8,416.2 L230.6,413.3 L227.6,410.3 L224.5,407.2 L221.6,404.0 L218.7,400.6 L215.9,397.2 L213.1,393.7 L210.4,390.1 L207.9,386.4 L205.4,382.7 L203.0,378.9 L200.7,375.0 L198.5,371.1 L196.3,367.1 L194.3,363.0 L192.5,359.0 L190.7,354.9 L189.0,350.7 L187.5,346.6 L186.0,342.4 L184.7,338.2 L183.5,334.1 L182.5,329.9 L181.5,325.8 L180.7,321.6 L180.1,317.5 L179.5,313.4 L179.1,309.4 L178.8,305.4 L178.7,301.4 Z"/></clipPath><path d="M178.7,297.6 L178.8,293.7 L179.0,290.0 L179.4,286.3 L179.9,282.7 L180.6,279.2 L181.3,275.8 L182.2,272.4 L183.3,269.2 L184.4,266.1 L185.7,263.1 L187.1,260.1 L188.6,257.4 L190.3,254.7 L192.0,252.2 L193.9,249.8 L225.9,212.9 L228.0,210.7 L230.2,208.6 L232.5,206.7 L234.9,204.9 L237.5,203.2 L240.2,201.7 L242.9,200.4 L245.8,199.2 L248.7,198.2 L251.8,197.4 L254.9,196.7 L258.1,196.1 L261.4,195.8 L264.8,195.6 L268.2,195.5 L271.6,195.6 L275.2,195.9 L278.8,196.4 L282.4,197.0 L286.1,197.8 L289.8,198.7 L293.5,199.8 L297.2,201.1 L301.0,202.5 L304.8,204.0 L308.5,205.7 L312.3,207.6 L316.1,209.6 L319.8,211.8 L323.5,214.1 L327.2,216.5 L330.9,219.0 L334.6,221.7 L338.1,224.5 L341.7,227.4 L345.2,230.5 L348.6,233.7 L352.0,236.9 L355.3,240.3 L358.5,243.7 L361.6,247.3 L364.7,250.9 L367.7,254.6 L370.6,258.4 L373.3,262.2 L376.0,266.1 L378.6,270.1 L381.0,274.1 L383.4,278.2 L385.6,282.3 L387.7,286.4 L389.7,290.5 L391.6,294.7 L393.3,298.9 L394.9,303.1 L396.3,307.2 L397.7,311.4 L398.8,315.6 L399.9,319.7 L400.8,323.8 L401.5,327.9 L402.1,331.9 L402.6,335.9 L402.9,339.8 L403.1,343.7 L403.1,347.5 L402.9,351.3 L402.6,354.9 L402.2,358.5 L401.6,362.0 L400.9,365.4 L400.1,368.7 L399.0,371.9 L397.9,375.1 L396.6,378.0 L395.2,380.9 L393.6,383.6 L391.9,386.3 L390.1,388.8 L388.1,391.1 L386.0,393.3 L383.8,395.4 L381.5,397.4 L379.1,399.1 L324.7,436.1 L322.2,437.6 L319.7,439.0 L317.0,440.2 L314.3,441.2 L311.5,442.1 L308.6,442.9 L305.7,443.5 L302.7,443.9 L299.6,444.1 L296.5,444.2 L293.4,444.2 L290.1,443.9 L286.9,443.5 L283.6,443.0 L280.3,442.2 L277.0,441.4 L273.6,440.3 L270.2,439.1 L266.9,437.8 L263.5,436.2 L260.1,434.6 L256.7,432.8 L253.4,430.8 L250.0,428.7 L246.7,426.5 L243.4,424.1 L240.2,421.6 L236.9,418.9 L233.8,416.2 L230.6,413.3 L227.6,410.3 L224.5,407.2 L221.6,404.0 L218.7,400.6 L215.9,397.2 L213.1,393.7 L210.4,390.1 L207.9,386.4 L205.4,382.7 L203.0,378.9 L200.7,375.0 L198.5,371.1 L196.3,367.1 L194.3,363.0 L192.5,359.0 L190.7,354.9 L189.0,350.7 L187.5,346.6 L186.0,342.4 L184.7,338.2 L183.5,334.1 L182.5,329.9 L181.5,325.8 L180.7,321.6 L180.1,317.5 L179.5,313.4 L179.1,309.4 L178.8,305.4 L178.7,301.4 Z" fill="url(#trd)" stroke="#000" stroke-width="1.5" /><g clip-path="url(#wh1)"><ellipse cx="285.9" cy="320.0" rx="74.5" ry="117.0" transform="rotate(-34.0 285.9 320.0)" fill="none" stroke="#fff" stroke-width="1.1" /><ellipse cx="307.0" cy="302.0" rx="76.0" ry="120.0" transform="rotate(-38.0 307.0 302.0)" fill="none" stroke="#fff" stroke-width="1.1" /></g><ellipse cx="264.8" cy="338.0" rx="74.0" ry="115.0" transform="rotate(-30 264.8 338.0)" fill="url(#dk)" stroke="#000" stroke-width="1.5" /><rect x="323.5" y="302.0" width="2" height="3" fill="#fff" opacity="0.75"/><rect x="330.7" y="315.9" width="2" height="3" fill="#fff" opacity="0.75"/><rect x="336.6" y="330.2" width="2" height="3" fill="#fff" opacity="0.75"/><rect x="341.0" y="344.7" width="2" height="3" fill="#fff" opacity="0.75"/><rect x="343.8" y="359.0" width="2" height="3" fill="#fff" opacity="0.75"/><rect x="344.9" y="372.8" width="2" height="3" fill="#fff" opacity="0.75"/><rect x="344.4" y="385.9" width="2" height="3" fill="#fff" opacity="0.75"/><rect x="342.3" y="398.0" width="2" height="3" fill="#fff" opacity="0.75"/><rect x="338.6" y="408.8" width="2" height="3" fill="#fff" opacity="0.75"/><rect x="333.4" y="418.2" width="2" height="3" fill="#fff" opacity="0.75"/><rect x="326.7" y="425.9" width="2" height="3" fill="#fff" opacity="0.75"/><rect x="318.8" y="431.8" width="2" height="3" fill="#fff" opacity="0.75"/><rect x="309.7" y="435.7" width="2" height="3" fill="#fff" opacity="0.75"/><rect x="299.7" y="437.6" width="2" height="3" fill="#fff" opacity="0.75"/><rect x="289.0" y="437.5" width="2" height="3" fill="#fff" opacity="0.75"/><rect x="277.7" y="435.3" width="2" height="3" fill="#fff" opacity="0.75"/><rect x="266.2" y="431.1" width="2" height="3" fill="#fff" opacity="0.75"/><rect x="254.6" y="425.0" width="2" height="3" fill="#fff" opacity="0.75"/><rect x="243.2" y="417.0" width="2" height="3" fill="#fff" opacity="0.75"/><rect x="232.2" y="407.5" width="2" height="3" fill="#fff" opacity="0.75"/><rect x="221.9" y="396.4" width="2" height="3" fill="#fff" opacity="0.75"/><rect x="212.4" y="384.2" width="2" height="3" fill="#fff" opacity="0.75"/><rect x="204.0" y="371.0" width="2" height="3" fill="#fff" opacity="0.75"/><rect x="196.8" y="357.1" width="2" height="3" fill="#fff" opacity="0.75"/><rect x="190.9" y="342.8" width="2" height="3" fill="#fff" opacity="0.75"/><rect x="186.5" y="328.3" width="2" height="3" fill="#fff" opacity="0.75"/><rect x="183.7" y="314.0" width="2" height="3" fill="#fff" opacity="0.75"/><rect x="182.6" y="300.2" width="2" height="3" fill="#fff" opacity="0.75"/><rect x="183.1" y="287.1" width="2" height="3" fill="#fff" opacity="0.75"/><rect x="185.2" y="275.0" width="2" height="3" fill="#fff" opacity="0.75"/><rect x="188.9" y="264.2" width="2" height="3" fill="#fff" opacity="0.75"/><rect x="194.1" y="254.8" width="2" height="3" fill="#fff" opacity="0.75"/><rect x="200.8" y="247.1" width="2" height="3" fill="#fff" opacity="0.75"/><rect x="208.8" y="241.2" width="2" height="3" fill="#fff" opacity="0.75"/><rect x="217.8" y="237.3" width="2" height="3" fill="#fff" opacity="0.75"/><rect x="227.8" y="235.4" width="2" height="3" fill="#fff" opacity="0.75"/><rect x="238.5" y="235.5" width="2" height="3" fill="#fff" opacity="0.75"/><rect x="249.8" y="237.7" width="2" height="3" fill="#fff" opacity="0.75"/><rect x="261.3" y="241.9" width="2" height="3" fill="#fff" opacity="0.75"/><rect x="272.9" y="248.0" width="2" height="3" fill="#fff" opacity="0.75"/><rect x="284.3" y="256.0" width="2" height="3" fill="#fff" opacity="0.75"/><rect x="295.3" y="265.5" width="2" height="3" fill="#fff" opacity="0.75"/><rect x="305.6" y="276.6" width="2" height="3" fill="#fff" opacity="0.75"/><rect x="315.1" y="288.8" width="2" height="3" fill="#fff" opacity="0.75"/><ellipse cx="267.0" cy="331.0" rx="58.0" ry="84.0" transform="rotate(-22 267.0 331.0)" fill="#fff" stroke="#000" stroke-width="1.5" /><path d="M212.0,286.0 L252.0,296.0 L256.0,332.0 L216.0,324.0 Z" fill="#fff" stroke="#000" stroke-width="1" /><line x1="220.0" y1="294.0" x2="252.0" y2="302.0" stroke="#000" stroke-width="2" /><line x1="220.0" y1="300.0" x2="252.0" y2="308.0" stroke="#000" stroke-width="2" /><line x1="220.0" y1="306.0" x2="252.0" y2="314.0" stroke="#000" stroke-width="2" /><line x1="220.0" y1="312.0" x2="252.0" y2="320.0" stroke="#000" stroke-width="2" /><line x1="220.0" y1="318.0" x2="252.0" y2="326.0" stroke="#000" stroke-width="2" /><line x1="220.0" y1="324.0" x2="252.0" y2="332.0" stroke="#000" stroke-width="2" /><ellipse cx="270.0" cy="326.0" rx="14.0" ry="22.0" transform="rotate(-25 270.0 326.0)" fill="#fff" stroke="#000" stroke-width="1" /><clipPath id="wh2"><path d="M1086.0,520.3 L1086.1,516.4 L1086.2,512.5 L1086.6,508.7 L1087.0,505.0 L1087.6,501.4 L1088.3,497.9 L1089.2,494.4 L1090.1,491.1 L1091.2,487.9 L1092.5,484.8 L1093.8,481.9 L1095.3,479.0 L1096.9,476.3 L1098.7,473.7 L1100.5,471.3 L1102.5,469.0 L1104.5,466.8 L1106.7,464.9 L1109.0,463.0 L1144.8,435.0 L1147.2,433.2 L1149.8,431.5 L1152.4,430.0 L1155.1,428.6 L1157.9,427.4 L1160.8,426.4 L1163.8,425.6 L1166.8,424.9 L1170.0,424.4 L1173.2,424.1 L1176.5,423.9 L1179.8,423.9 L1183.2,424.1 L1186.6,424.5 L1190.1,425.1 L1193.6,425.8 L1197.2,426.7 L1200.8,427.8 L1204.4,429.0 L1208.0,430.4 L1211.7,432.0 L1215.3,433.7 L1219.0,435.6 L1222.6,437.6 L1226.3,439.8 L1229.9,442.2 L1233.5,444.7 L1237.1,447.3 L1240.6,450.1 L1244.1,453.0 L1247.6,456.1 L1251.0,459.2 L1254.3,462.5 L1257.6,465.9 L1260.9,469.4 L1264.0,473.1 L1267.1,476.8 L1270.1,480.6 L1273.1,484.5 L1275.9,488.5 L1278.7,492.6 L1281.3,496.7 L1283.8,500.9 L1286.3,505.1 L1288.6,509.4 L1290.9,513.8 L1293.0,518.2 L1295.0,522.6 L1296.8,527.0 L1298.6,531.5 L1300.2,535.9 L1301.7,540.4 L1303.0,544.8 L1304.2,549.3 L1305.3,553.7 L1306.3,558.1 L1307.1,562.5 L1307.8,566.8 L1308.3,571.1 L1308.7,575.3 L1308.9,579.5 L1309.0,583.6 L1309.0,587.6 L1308.8,591.6 L1308.5,595.5 L1308.0,599.3 L1307.4,603.0 L1306.6,606.6 L1305.7,610.0 L1304.7,613.4 L1303.5,616.7 L1302.2,619.8 L1300.8,622.8 L1299.2,625.7 L1297.5,628.5 L1295.7,631.0 L1293.7,633.5 L1291.6,635.8 L1289.5,638.0 L1287.2,640.0 L1284.8,641.8 L1282.2,643.5 L1279.6,645.0 L1276.9,646.4 L1231.2,669.0 L1228.6,670.2 L1225.8,671.2 L1223.0,672.1 L1220.1,672.8 L1217.2,673.4 L1214.2,673.8 L1211.1,674.0 L1207.9,674.0 L1204.7,673.9 L1201.5,673.6 L1198.2,673.1 L1194.8,672.5 L1191.5,671.6 L1188.1,670.7 L1184.7,669.5 L1181.2,668.2 L1177.8,666.8 L1174.4,665.1 L1170.9,663.4 L1167.5,661.4 L1164.0,659.3 L1160.6,657.1 L1157.2,654.7 L1153.8,652.2 L1150.5,649.5 L1147.2,646.8 L1143.9,643.9 L1140.7,640.8 L1137.5,637.6 L1134.4,634.4 L1131.4,631.0 L1128.4,627.5 L1125.5,623.9 L1122.7,620.3 L1119.9,616.5 L1117.2,612.7 L1114.6,608.7 L1112.1,604.8 L1109.7,600.7 L1107.4,596.6 L1105.2,592.4 L1103.1,588.2 L1101.1,584.0 L1099.2,579.7 L1097.5,575.4 L1095.8,571.1 L1094.3,566.8 L1092.9,562.4 L1091.6,558.1 L1090.5,553.8 L1089.5,549.5 L1088.6,545.2 L1087.8,541.0 L1087.2,536.7 L1086.7,532.5 L1086.3,528.4 L1086.1,524.3 Z"/></clipPath><path d="M1086.0,520.3 L1086.1,516.4 L1086.2,512.5 L1086.6,508.7 L1087.0,505.0 L1087.6,501.4 L1088.3,497.9 L1089.2,494.4 L1090.1,491.1 L1091.2,487.9 L1092.5,484.8 L1093.8,481.9 L1095.3,479.0 L1096.9,476.3 L1098.7,473.7 L1100.5,471.3 L1102.5,469.0 L1104.5,466.8 L1106.7,464.9 L1109.0,463.0 L1144.8,435.0 L1147.2,433.2 L1149.8,431.5 L1152.4,430.0 L1155.1,428.6 L1157.9,427.4 L1160.8,426.4 L1163.8,425.6 L1166.8,424.9 L1170.0,424.4 L1173.2,424.1 L1176.5,423.9 L1179.8,423.9 L1183.2,424.1 L1186.6,424.5 L1190.1,425.1 L1193.6,425.8 L1197.2,426.7 L1200.8,427.8 L1204.4,429.0 L1208.0,430.4 L1211.7,432.0 L1215.3,433.7 L1219.0,435.6 L1222.6,437.6 L1226.3,439.8 L1229.9,442.2 L1233.5,444.7 L1237.1,447.3 L1240.6,450.1 L1244.1,453.0 L1247.6,456.1 L1251.0,459.2 L1254.3,462.5 L1257.6,465.9 L1260.9,469.4 L1264.0,473.1 L1267.1,476.8 L1270.1,480.6 L1273.1,484.5 L1275.9,488.5 L1278.7,492.6 L1281.3,496.7 L1283.8,500.9 L1286.3,505.1 L1288.6,509.4 L1290.9,513.8 L1293.0,518.2 L1295.0,522.6 L1296.8,527.0 L1298.6,531.5 L1300.2,535.9 L1301.7,540.4 L1303.0,544.8 L1304.2,549.3 L1305.3,553.7 L1306.3,558.1 L1307.1,562.5 L1307.8,566.8 L1308.3,571.1 L1308.7,575.3 L1308.9,579.5 L1309.0,583.6 L1309.0,587.6 L1308.8,591.6 L1308.5,595.5 L1308.0,599.3 L1307.4,603.0 L1306.6,606.6 L1305.7,610.0 L1304.7,613.4 L1303.5,616.7 L1302.2,619.8 L1300.8,622.8 L1299.2,625.7 L1297.5,628.5 L1295.7,631.0 L1293.7,633.5 L1291.6,635.8 L1289.5,638.0 L1287.2,640.0 L1284.8,641.8 L1282.2,643.5 L1279.6,645.0 L1276.9,646.4 L1231.2,669.0 L1228.6,670.2 L1225.8,671.2 L1223.0,672.1 L1220.1,672.8 L1217.2,673.4 L1214.2,673.8 L1211.1,674.0 L1207.9,674.0 L1204.7,673.9 L1201.5,673.6 L1198.2,673.1 L1194.8,672.5 L1191.5,671.6 L1188.1,670.7 L1184.7,669.5 L1181.2,668.2 L1177.8,666.8 L1174.4,665.1 L1170.9,663.4 L1167.5,661.4 L1164.0,659.3 L1160.6,657.1 L1157.2,654.7 L1153.8,652.2 L1150.5,649.5 L1147.2,646.8 L1143.9,643.9 L1140.7,640.8 L1137.5,637.6 L1134.4,634.4 L1131.4,631.0 L1128.4,627.5 L1125.5,623.9 L1122.7,620.3 L1119.9,616.5 L1117.2,612.7 L1114.6,608.7 L1112.1,604.8 L1109.7,600.7 L1107.4,596.6 L1105.2,592.4 L1103.1,588.2 L1101.1,584.0 L1099.2,579.7 L1097.5,575.4 L1095.8,571.1 L1094.3,566.8 L1092.9,562.4 L1091.6,558.1 L1090.5,553.8 L1089.5,549.5 L1088.6,545.2 L1087.8,541.0 L1087.2,536.7 L1086.7,532.5 L1086.3,528.4 L1086.1,524.3 Z" fill="url(#trd)" stroke="#000" stroke-width="1.5" /><g clip-path="url(#wh2)"><ellipse cx="1194.9" cy="550.6" rx="74.5" ry="121.5" transform="rotate(-31.0 1194.9 550.6)" fill="none" stroke="#fff" stroke-width="1.1" /><ellipse cx="1216.0" cy="537.5" rx="76.0" ry="124.0" transform="rotate(-32.0 1216.0 537.5)" fill="none" stroke="#fff" stroke-width="1.1" /></g><ellipse cx="1173.8" cy="563.7" rx="74.0" ry="120.0" transform="rotate(-30 1173.8 563.7)" fill="url(#dk)" stroke="#000" stroke-width="1.5" /><rect x="1232.6" y="527.7" width="2" height="3" fill="#fff" opacity="0.75"/><rect x="1240.1" y="542.2" width="2" height="3" fill="#fff" opacity="0.75"/><rect x="1246.3" y="557.2" width="2" height="3" fill="#fff" opacity="0.75"/><rect x="1251.0" y="572.2" width="2" height="3" fill="#fff" opacity="0.75"/><rect x="1254.2" y="587.0" width="2" height="3" fill="#fff" opacity="0.75"/><rect x="1255.6" y="601.3" width="2" height="3" fill="#fff" opacity="0.75"/><rect x="1255.4" y="614.9" width="2" height="3" fill="#fff" opacity="0.75"/><rect x="1253.5" y="627.3" width="2" height="3" fill="#fff" opacity="0.75"/><rect x="1249.9" y="638.5" width="2" height="3" fill="#fff" opacity="0.75"/><rect x="1244.8" y="648.0" width="2" height="3" fill="#fff" opacity="0.75"/><rect x="1238.2" y="655.9" width="2" height="3" fill="#fff" opacity="0.75"/><rect x="1230.3" y="661.8" width="2" height="3" fill="#fff" opacity="0.75"/><rect x="1221.2" y="665.7" width="2" height="3" fill="#fff" opacity="0.75"/><rect x="1211.1" y="667.5" width="2" height="3" fill="#fff" opacity="0.75"/><rect x="1200.3" y="667.1" width="2" height="3" fill="#fff" opacity="0.75"/><rect x="1188.9" y="664.6" width="2" height="3" fill="#fff" opacity="0.75"/><rect x="1177.1" y="660.1" width="2" height="3" fill="#fff" opacity="0.75"/><rect x="1165.3" y="653.5" width="2" height="3" fill="#fff" opacity="0.75"/><rect x="1153.6" y="645.1" width="2" height="3" fill="#fff" opacity="0.75"/><rect x="1142.3" y="635.0" width="2" height="3" fill="#fff" opacity="0.75"/><rect x="1131.7" y="623.4" width="2" height="3" fill="#fff" opacity="0.75"/><rect x="1121.8" y="610.5" width="2" height="3" fill="#fff" opacity="0.75"/><rect x="1113.0" y="596.7" width="2" height="3" fill="#fff" opacity="0.75"/><rect x="1105.5" y="582.2" width="2" height="3" fill="#fff" opacity="0.75"/><rect x="1099.3" y="567.2" width="2" height="3" fill="#fff" opacity="0.75"/><rect x="1094.6" y="552.2" width="2" height="3" fill="#fff" opacity="0.75"/><rect x="1091.4" y="537.4" width="2" height="3" fill="#fff" opacity="0.75"/><rect x="1090.0" y="523.1" width="2" height="3" fill="#fff" opacity="0.75"/><rect x="1090.2" y="509.5" width="2" height="3" fill="#fff" opacity="0.75"/><rect x="1092.1" y="497.1" width="2" height="3" fill="#fff" opacity="0.75"/><rect x="1095.7" y="485.9" width="2" height="3" fill="#fff" opacity="0.75"/><rect x="1100.8" y="476.4" width="2" height="3" fill="#fff" opacity="0.75"/><rect x="1107.4" y="468.5" width="2" height="3" fill="#fff" opacity="0.75"/><rect x="1115.3" y="462.6" width="2" height="3" fill="#fff" opacity="0.75"/><rect x="1124.4" y="458.7" width="2" height="3" fill="#fff" opacity="0.75"/><rect x="1134.5" y="456.9" width="2" height="3" fill="#fff" opacity="0.75"/><rect x="1145.3" y="457.3" width="2" height="3" fill="#fff" opacity="0.75"/><rect x="1156.7" y="459.8" width="2" height="3" fill="#fff" opacity="0.75"/><rect x="1168.5" y="464.3" width="2" height="3" fill="#fff" opacity="0.75"/><rect x="1180.3" y="470.9" width="2" height="3" fill="#fff" opacity="0.75"/><rect x="1192.0" y="479.3" width="2" height="3" fill="#fff" opacity="0.75"/><rect x="1203.3" y="489.4" width="2" height="3" fill="#fff" opacity="0.75"/><rect x="1213.9" y="501.0" width="2" height="3" fill="#fff" opacity="0.75"/><rect x="1223.8" y="513.9" width="2" height="3" fill="#fff" opacity="0.75"/><ellipse cx="1174.0" cy="560.0" rx="58.0" ry="84.0" transform="rotate(-22 1174.0 560.0)" fill="#fff" stroke="#000" stroke-width="1.5" /><ellipse cx="1174.0" cy="560.0" rx="53.0" ry="79.0" transform="rotate(-22 1174.0 560.0)" fill="none" stroke="#000" stroke-width="1" /><line x1="1175.0" y1="495.0" x2="1175.0" y2="535.0" stroke="#000" stroke-width="0.9" /><line x1="1176.6" y1="495.6" x2="1176.6" y2="535.6" stroke="#000" stroke-width="0.7" /><line x1="1125.0" y1="499.0" x2="1157.0" y2="540.0" stroke="#000" stroke-width="0.9" /><line x1="1126.6" y1="499.6" x2="1158.6" y2="540.6" stroke="#000" stroke-width="0.7" /><line x1="1125.0" y1="563.0" x2="1153.0" y2="558.0" stroke="#000" stroke-width="0.9" /><line x1="1126.6" y1="563.6" x2="1154.6" y2="558.6" stroke="#000" stroke-width="0.7" /><line x1="1181.0" y1="562.0" x2="1224.0" y2="556.0" stroke="#000" stroke-width="0.9" /><line x1="1182.6" y1="562.6" x2="1225.6" y2="556.6" stroke="#000" stroke-width="0.7" /><line x1="1181.0" y1="580.0" x2="1224.0" y2="622.0" stroke="#000" stroke-width="0.9" /><line x1="1182.6" y1="580.6" x2="1225.6" y2="622.6" stroke="#000" stroke-width="0.7" /><line x1="1175.0" y1="585.0" x2="1175.0" y2="628.0" stroke="#000" stroke-width="0.9" /><line x1="1176.6" y1="585.6" x2="1176.6" y2="628.6" stroke="#000" stroke-width="0.7" /><line x1="1158.0" y1="548.0" x2="1208.0" y2="527.0" stroke="#000" stroke-width="0.8" /><line x1="1185.0" y1="578.0" x2="1217.0" y2="541.0" stroke="#000" stroke-width="0.8" /><line x1="1177.0" y1="628.0" x2="1211.0" y2="607.0" stroke="#000" stroke-width="0.8" /><line x1="1125.5" y1="563.0" x2="1157.5" y2="546.0" stroke="#000" stroke-width="0.8" /><ellipse cx="1166.5" cy="566.0" rx="14.5" ry="18.0" transform="rotate(-25 1166.5 566.0)" fill="#fff" stroke="#000" stroke-width="1.2" /><ellipse cx="1166.5" cy="566.0" rx="7.0" ry="9.5" transform="rotate(-25 1166.5 566.0)" fill="#fff" stroke="#000" stroke-width="1.6" /><clipPath id="wh3"><path d="M247.4,1522.6 L247.5,1518.7 L247.8,1515.0 L248.2,1511.3 L248.7,1507.7 L249.3,1504.2 L250.1,1500.8 L251.0,1497.4 L252.0,1494.2 L253.2,1491.1 L254.4,1488.0 L255.8,1485.2 L257.4,1482.4 L259.0,1479.7 L260.8,1477.2 L262.6,1474.8 L292.9,1438.2 L294.9,1435.9 L297.0,1433.7 L299.2,1431.6 L301.5,1429.7 L303.9,1427.9 L306.5,1426.2 L309.1,1424.7 L311.9,1423.4 L314.8,1422.2 L317.7,1421.2 L320.8,1420.4 L323.9,1419.7 L327.1,1419.1 L330.4,1418.8 L333.8,1418.6 L337.2,1418.5 L340.6,1418.6 L344.2,1418.9 L347.8,1419.4 L351.4,1420.0 L355.1,1420.8 L358.8,1421.7 L362.5,1422.8 L366.2,1424.1 L370.0,1425.5 L373.8,1427.0 L377.5,1428.7 L381.3,1430.6 L385.1,1432.6 L388.8,1434.8 L392.5,1437.0 L396.2,1439.5 L399.9,1442.0 L403.6,1444.7 L407.1,1447.5 L410.7,1450.5 L414.2,1453.5 L417.6,1456.7 L421.0,1459.9 L424.3,1463.3 L427.5,1466.7 L430.6,1470.3 L433.7,1473.9 L436.7,1477.6 L439.6,1481.4 L442.3,1485.2 L445.0,1489.1 L447.6,1493.1 L450.0,1497.1 L452.4,1501.2 L454.6,1505.3 L456.7,1509.4 L458.7,1513.5 L460.6,1517.7 L462.3,1521.9 L463.9,1526.0 L465.3,1530.2 L466.7,1534.4 L467.8,1538.6 L468.9,1542.7 L469.8,1546.8 L470.5,1550.9 L471.1,1554.9 L471.6,1558.9 L471.9,1562.8 L472.1,1566.7 L472.1,1570.5 L471.9,1574.3 L471.6,1577.9 L471.2,1581.5 L470.6,1585.0 L469.9,1588.4 L469.1,1591.7 L468.0,1595.0 L466.9,1598.0 L465.6,1601.0 L464.2,1603.9 L462.6,1606.7 L460.9,1609.3 L459.1,1611.8 L457.1,1614.1 L455.0,1616.3 L452.8,1618.4 L450.5,1620.3 L448.1,1622.1 L395.9,1659.4 L393.5,1661.1 L391.0,1662.6 L388.4,1664.0 L385.8,1665.2 L383.1,1666.2 L380.3,1667.2 L377.4,1667.9 L374.4,1668.5 L371.4,1668.9 L368.4,1669.2 L365.3,1669.2 L362.1,1669.2 L358.9,1668.9 L355.6,1668.5 L352.4,1668.0 L349.0,1667.2 L345.7,1666.4 L342.4,1665.3 L339.0,1664.1 L335.6,1662.8 L332.2,1661.2 L328.8,1659.6 L325.5,1657.8 L322.1,1655.8 L318.8,1653.7 L315.4,1651.5 L312.2,1649.1 L308.9,1646.6 L305.7,1644.0 L302.5,1641.2 L299.4,1638.3 L296.3,1635.3 L293.3,1632.2 L290.3,1629.0 L287.4,1625.6 L284.6,1622.2 L281.9,1618.7 L279.2,1615.1 L276.6,1611.5 L274.1,1607.7 L271.7,1603.9 L269.4,1600.0 L267.2,1596.1 L265.1,1592.1 L263.1,1588.0 L261.2,1584.0 L259.4,1579.9 L257.8,1575.7 L256.2,1571.6 L254.8,1567.4 L253.5,1563.2 L252.3,1559.1 L251.2,1554.9 L250.3,1550.8 L249.5,1546.6 L248.8,1542.5 L248.3,1538.4 L247.9,1534.4 L247.6,1530.4 L247.4,1526.5 Z"/></clipPath><path d="M247.4,1522.6 L247.5,1518.7 L247.8,1515.0 L248.2,1511.3 L248.7,1507.7 L249.3,1504.2 L250.1,1500.8 L251.0,1497.4 L252.0,1494.2 L253.2,1491.1 L254.4,1488.0 L255.8,1485.2 L257.4,1482.4 L259.0,1479.7 L260.8,1477.2 L262.6,1474.8 L292.9,1438.2 L294.9,1435.9 L297.0,1433.7 L299.2,1431.6 L301.5,1429.7 L303.9,1427.9 L306.5,1426.2 L309.1,1424.7 L311.9,1423.4 L314.8,1422.2 L317.7,1421.2 L320.8,1420.4 L323.9,1419.7 L327.1,1419.1 L330.4,1418.8 L333.8,1418.6 L337.2,1418.5 L340.6,1418.6 L344.2,1418.9 L347.8,1419.4 L351.4,1420.0 L355.1,1420.8 L358.8,1421.7 L362.5,1422.8 L366.2,1424.1 L370.0,1425.5 L373.8,1427.0 L377.5,1428.7 L381.3,1430.6 L385.1,1432.6 L388.8,1434.8 L392.5,1437.0 L396.2,1439.5 L399.9,1442.0 L403.6,1444.7 L407.1,1447.5 L410.7,1450.5 L414.2,1453.5 L417.6,1456.7 L421.0,1459.9 L424.3,1463.3 L427.5,1466.7 L430.6,1470.3 L433.7,1473.9 L436.7,1477.6 L439.6,1481.4 L442.3,1485.2 L445.0,1489.1 L447.6,1493.1 L450.0,1497.1 L452.4,1501.2 L454.6,1505.3 L456.7,1509.4 L458.7,1513.5 L460.6,1517.7 L462.3,1521.9 L463.9,1526.0 L465.3,1530.2 L466.7,1534.4 L467.8,1538.6 L468.9,1542.7 L469.8,1546.8 L470.5,1550.9 L471.1,1554.9 L471.6,1558.9 L471.9,1562.8 L472.1,1566.7 L472.1,1570.5 L471.9,1574.3 L471.6,1577.9 L471.2,1581.5 L470.6,1585.0 L469.9,1588.4 L469.1,1591.7 L468.0,1595.0 L466.9,1598.0 L465.6,1601.0 L464.2,1603.9 L462.6,1606.7 L460.9,1609.3 L459.1,1611.8 L457.1,1614.1 L455.0,1616.3 L452.8,1618.4 L450.5,1620.3 L448.1,1622.1 L395.9,1659.4 L393.5,1661.1 L391.0,1662.6 L388.4,1664.0 L385.8,1665.2 L383.1,1666.2 L380.3,1667.2 L377.4,1667.9 L374.4,1668.5 L371.4,1668.9 L368.4,1669.2 L365.3,1669.2 L362.1,1669.2 L358.9,1668.9 L355.6,1668.5 L352.4,1668.0 L349.0,1667.2 L345.7,1666.4 L342.4,1665.3 L339.0,1664.1 L335.6,1662.8 L332.2,1661.2 L328.8,1659.6 L325.5,1657.8 L322.1,1655.8 L318.8,1653.7 L315.4,1651.5 L312.2,1649.1 L308.9,1646.6 L305.7,1644.0 L302.5,1641.2 L299.4,1638.3 L296.3,1635.3 L293.3,1632.2 L290.3,1629.0 L287.4,1625.6 L284.6,1622.2 L281.9,1618.7 L279.2,1615.1 L276.6,1611.5 L274.1,1607.7 L271.7,1603.9 L269.4,1600.0 L267.2,1596.1 L265.1,1592.1 L263.1,1588.0 L261.2,1584.0 L259.4,1579.9 L257.8,1575.7 L256.2,1571.6 L254.8,1567.4 L253.5,1563.2 L252.3,1559.1 L251.2,1554.9 L250.3,1550.8 L249.5,1546.6 L248.8,1542.5 L248.3,1538.4 L247.9,1534.4 L247.6,1530.4 L247.4,1526.5 Z" fill="url(#trd)" stroke="#000" stroke-width="1.5" /><g clip-path="url(#wh3)"><ellipse cx="354.8" cy="1544.0" rx="74.5" ry="117.0" transform="rotate(-34.0 354.8 1544.0)" fill="none" stroke="#fff" stroke-width="1.1" /><ellipse cx="376.0" cy="1525.0" rx="76.0" ry="120.0" transform="rotate(-38.0 376.0 1525.0)" fill="none" stroke="#fff" stroke-width="1.1" /></g><ellipse cx="333.5" cy="1563.0" rx="74.0" ry="115.0" transform="rotate(-30 333.5 1563.0)" fill="url(#dk)" stroke="#000" stroke-width="1.5" /><rect x="392.3" y="1527.0" width="2" height="3" fill="#fff" opacity="0.75"/><rect x="399.5" y="1540.9" width="2" height="3" fill="#fff" opacity="0.75"/><rect x="405.3" y="1555.2" width="2" height="3" fill="#fff" opacity="0.75"/><rect x="409.7" y="1569.7" width="2" height="3" fill="#fff" opacity="0.75"/><rect x="412.5" y="1584.0" width="2" height="3" fill="#fff" opacity="0.75"/><rect x="413.7" y="1597.8" width="2" height="3" fill="#fff" opacity="0.75"/><rect x="413.2" y="1610.9" width="2" height="3" fill="#fff" opacity="0.75"/><rect x="411.1" y="1623.0" width="2" height="3" fill="#fff" opacity="0.75"/><rect x="407.4" y="1633.8" width="2" height="3" fill="#fff" opacity="0.75"/><rect x="402.1" y="1643.2" width="2" height="3" fill="#fff" opacity="0.75"/><rect x="395.4" y="1650.9" width="2" height="3" fill="#fff" opacity="0.75"/><rect x="387.5" y="1656.8" width="2" height="3" fill="#fff" opacity="0.75"/><rect x="378.4" y="1660.7" width="2" height="3" fill="#fff" opacity="0.75"/><rect x="368.4" y="1662.6" width="2" height="3" fill="#fff" opacity="0.75"/><rect x="357.7" y="1662.5" width="2" height="3" fill="#fff" opacity="0.75"/><rect x="346.5" y="1660.3" width="2" height="3" fill="#fff" opacity="0.75"/><rect x="334.9" y="1656.1" width="2" height="3" fill="#fff" opacity="0.75"/><rect x="323.4" y="1650.0" width="2" height="3" fill="#fff" opacity="0.75"/><rect x="312.0" y="1642.0" width="2" height="3" fill="#fff" opacity="0.75"/><rect x="301.0" y="1632.5" width="2" height="3" fill="#fff" opacity="0.75"/><rect x="290.7" y="1621.4" width="2" height="3" fill="#fff" opacity="0.75"/><rect x="281.2" y="1609.2" width="2" height="3" fill="#fff" opacity="0.75"/><rect x="272.7" y="1596.0" width="2" height="3" fill="#fff" opacity="0.75"/><rect x="265.5" y="1582.1" width="2" height="3" fill="#fff" opacity="0.75"/><rect x="259.7" y="1567.8" width="2" height="3" fill="#fff" opacity="0.75"/><rect x="255.3" y="1553.3" width="2" height="3" fill="#fff" opacity="0.75"/><rect x="252.5" y="1539.0" width="2" height="3" fill="#fff" opacity="0.75"/><rect x="251.3" y="1525.2" width="2" height="3" fill="#fff" opacity="0.75"/><rect x="251.8" y="1512.1" width="2" height="3" fill="#fff" opacity="0.75"/><rect x="253.9" y="1500.0" width="2" height="3" fill="#fff" opacity="0.75"/><rect x="257.6" y="1489.2" width="2" height="3" fill="#fff" opacity="0.75"/><rect x="262.9" y="1479.8" width="2" height="3" fill="#fff" opacity="0.75"/><rect x="269.6" y="1472.1" width="2" height="3" fill="#fff" opacity="0.75"/><rect x="277.5" y="1466.2" width="2" height="3" fill="#fff" opacity="0.75"/><rect x="286.6" y="1462.3" width="2" height="3" fill="#fff" opacity="0.75"/><rect x="296.6" y="1460.4" width="2" height="3" fill="#fff" opacity="0.75"/><rect x="307.3" y="1460.5" width="2" height="3" fill="#fff" opacity="0.75"/><rect x="318.5" y="1462.7" width="2" height="3" fill="#fff" opacity="0.75"/><rect x="330.1" y="1466.9" width="2" height="3" fill="#fff" opacity="0.75"/><rect x="341.6" y="1473.0" width="2" height="3" fill="#fff" opacity="0.75"/><rect x="353.0" y="1481.0" width="2" height="3" fill="#fff" opacity="0.75"/><rect x="364.0" y="1490.5" width="2" height="3" fill="#fff" opacity="0.75"/><rect x="374.3" y="1501.6" width="2" height="3" fill="#fff" opacity="0.75"/><rect x="383.8" y="1513.8" width="2" height="3" fill="#fff" opacity="0.75"/><ellipse cx="338.0" cy="1555.0" rx="58.0" ry="84.0" transform="rotate(-22 338.0 1555.0)" fill="#fff" stroke="#000" stroke-width="1.5" /><path d="M284.0,1512.0 L324.0,1522.0 L328.0,1558.0 L288.0,1550.0 Z" fill="#fff" stroke="#000" stroke-width="1" /><line x1="292.0" y1="1520.0" x2="324.0" y2="1528.0" stroke="#000" stroke-width="2" /><line x1="292.0" y1="1526.0" x2="324.0" y2="1534.0" stroke="#000" stroke-width="2" /><line x1="292.0" y1="1532.0" x2="324.0" y2="1540.0" stroke="#000" stroke-width="2" /><line x1="292.0" y1="1538.0" x2="324.0" y2="1546.0" stroke="#000" stroke-width="2" /><line x1="292.0" y1="1544.0" x2="324.0" y2="1552.0" stroke="#000" stroke-width="2" /><line x1="292.0" y1="1550.0" x2="324.0" y2="1558.0" stroke="#000" stroke-width="2" /><ellipse cx="342.0" cy="1552.0" rx="14.0" ry="22.0" transform="rotate(-25 342.0 1552.0)" fill="#fff" stroke="#000" stroke-width="1" /><clipPath id="wh4"><path d="M1055.0,1393.8 L1055.1,1389.9 L1055.2,1386.0 L1055.6,1382.2 L1056.0,1378.5 L1056.6,1374.9 L1057.3,1371.3 L1058.2,1367.9 L1059.1,1364.6 L1060.2,1361.4 L1061.5,1358.3 L1062.8,1355.3 L1064.3,1352.5 L1065.9,1349.8 L1067.7,1347.2 L1069.5,1344.8 L1071.5,1342.5 L1073.5,1340.3 L1075.7,1338.3 L1078.0,1336.5 L1115.8,1307.0 L1118.2,1305.2 L1120.8,1303.5 L1123.4,1302.0 L1126.1,1300.6 L1128.9,1299.4 L1131.8,1298.4 L1134.8,1297.6 L1137.8,1296.9 L1141.0,1296.4 L1144.2,1296.1 L1147.5,1295.9 L1150.8,1296.0 L1154.2,1296.2 L1157.6,1296.5 L1161.1,1297.1 L1164.6,1297.8 L1168.2,1298.7 L1171.8,1299.8 L1175.4,1301.0 L1179.0,1302.4 L1182.7,1304.0 L1186.3,1305.7 L1190.0,1307.6 L1193.6,1309.6 L1197.3,1311.8 L1200.9,1314.2 L1204.5,1316.7 L1208.1,1319.3 L1211.6,1322.1 L1215.1,1325.0 L1218.6,1328.1 L1222.0,1331.2 L1225.3,1334.5 L1228.6,1337.9 L1231.9,1341.5 L1235.0,1345.1 L1238.1,1348.8 L1241.1,1352.6 L1244.1,1356.5 L1246.9,1360.5 L1249.7,1364.6 L1252.3,1368.7 L1254.8,1372.9 L1257.3,1377.1 L1259.6,1381.4 L1261.9,1385.8 L1264.0,1390.2 L1266.0,1394.6 L1267.8,1399.0 L1269.6,1403.5 L1271.2,1407.9 L1272.7,1412.4 L1274.0,1416.8 L1275.2,1421.3 L1276.3,1425.7 L1277.3,1430.1 L1278.1,1434.5 L1278.8,1438.8 L1279.3,1443.1 L1279.7,1447.3 L1279.9,1451.5 L1280.0,1455.6 L1280.0,1459.6 L1279.8,1463.6 L1279.5,1467.5 L1279.0,1471.3 L1278.4,1475.0 L1277.6,1478.6 L1276.7,1482.0 L1275.7,1485.4 L1274.5,1488.7 L1273.2,1491.8 L1271.8,1494.8 L1270.2,1497.7 L1268.5,1500.5 L1266.7,1503.0 L1264.7,1505.5 L1262.6,1507.8 L1260.5,1510.0 L1258.2,1512.0 L1255.8,1513.8 L1253.2,1515.5 L1250.6,1517.0 L1200.2,1542.5 L1197.6,1543.7 L1194.8,1544.8 L1192.0,1545.6 L1189.1,1546.3 L1186.2,1546.9 L1183.2,1547.3 L1180.1,1547.5 L1176.9,1547.5 L1173.7,1547.4 L1170.5,1547.1 L1167.2,1546.6 L1163.8,1546.0 L1160.5,1545.1 L1157.1,1544.2 L1153.7,1543.0 L1150.2,1541.7 L1146.8,1540.2 L1143.4,1538.6 L1139.9,1536.8 L1136.5,1534.9 L1133.0,1532.8 L1129.6,1530.6 L1126.2,1528.2 L1122.8,1525.7 L1119.5,1523.0 L1116.2,1520.3 L1112.9,1517.3 L1109.7,1514.3 L1106.5,1511.2 L1103.4,1507.9 L1100.4,1504.5 L1097.4,1501.0 L1094.5,1497.4 L1091.7,1493.8 L1088.9,1490.0 L1086.2,1486.2 L1083.6,1482.2 L1081.1,1478.2 L1078.7,1474.2 L1076.4,1470.1 L1074.2,1465.9 L1072.1,1461.7 L1070.1,1457.5 L1068.2,1453.2 L1066.5,1448.9 L1064.8,1444.6 L1063.3,1440.3 L1061.9,1435.9 L1060.6,1431.6 L1059.5,1427.3 L1058.5,1423.0 L1057.6,1418.7 L1056.8,1414.5 L1056.2,1410.2 L1055.7,1406.0 L1055.3,1401.9 L1055.1,1397.8 Z"/></clipPath><path d="M1055.0,1393.8 L1055.1,1389.9 L1055.2,1386.0 L1055.6,1382.2 L1056.0,1378.5 L1056.6,1374.9 L1057.3,1371.3 L1058.2,1367.9 L1059.1,1364.6 L1060.2,1361.4 L1061.5,1358.3 L1062.8,1355.3 L1064.3,1352.5 L1065.9,1349.8 L1067.7,1347.2 L1069.5,1344.8 L1071.5,1342.5 L1073.5,1340.3 L1075.7,1338.3 L1078.0,1336.5 L1115.8,1307.0 L1118.2,1305.2 L1120.8,1303.5 L1123.4,1302.0 L1126.1,1300.6 L1128.9,1299.4 L1131.8,1298.4 L1134.8,1297.6 L1137.8,1296.9 L1141.0,1296.4 L1144.2,1296.1 L1147.5,1295.9 L1150.8,1296.0 L1154.2,1296.2 L1157.6,1296.5 L1161.1,1297.1 L1164.6,1297.8 L1168.2,1298.7 L1171.8,1299.8 L1175.4,1301.0 L1179.0,1302.4 L1182.7,1304.0 L1186.3,1305.7 L1190.0,1307.6 L1193.6,1309.6 L1197.3,1311.8 L1200.9,1314.2 L1204.5,1316.7 L1208.1,1319.3 L1211.6,1322.1 L1215.1,1325.0 L1218.6,1328.1 L1222.0,1331.2 L1225.3,1334.5 L1228.6,1337.9 L1231.9,1341.5 L1235.0,1345.1 L1238.1,1348.8 L1241.1,1352.6 L1244.1,1356.5 L1246.9,1360.5 L1249.7,1364.6 L1252.3,1368.7 L1254.8,1372.9 L1257.3,1377.1 L1259.6,1381.4 L1261.9,1385.8 L1264.0,1390.2 L1266.0,1394.6 L1267.8,1399.0 L1269.6,1403.5 L1271.2,1407.9 L1272.7,1412.4 L1274.0,1416.8 L1275.2,1421.3 L1276.3,1425.7 L1277.3,1430.1 L1278.1,1434.5 L1278.8,1438.8 L1279.3,1443.1 L1279.7,1447.3 L1279.9,1451.5 L1280.0,1455.6 L1280.0,1459.6 L1279.8,1463.6 L1279.5,1467.5 L1279.0,1471.3 L1278.4,1475.0 L1277.6,1478.6 L1276.7,1482.0 L1275.7,1485.4 L1274.5,1488.7 L1273.2,1491.8 L1271.8,1494.8 L1270.2,1497.7 L1268.5,1500.5 L1266.7,1503.0 L1264.7,1505.5 L1262.6,1507.8 L1260.5,1510.0 L1258.2,1512.0 L1255.8,1513.8 L1253.2,1515.5 L1250.6,1517.0 L1200.2,1542.5 L1197.6,1543.7 L1194.8,1544.8 L1192.0,1545.6 L1189.1,1546.3 L1186.2,1546.9 L1183.2,1547.3 L1180.1,1547.5 L1176.9,1547.5 L1173.7,1547.4 L1170.5,1547.1 L1167.2,1546.6 L1163.8,1546.0 L1160.5,1545.1 L1157.1,1544.2 L1153.7,1543.0 L1150.2,1541.7 L1146.8,1540.2 L1143.4,1538.6 L1139.9,1536.8 L1136.5,1534.9 L1133.0,1532.8 L1129.6,1530.6 L1126.2,1528.2 L1122.8,1525.7 L1119.5,1523.0 L1116.2,1520.3 L1112.9,1517.3 L1109.7,1514.3 L1106.5,1511.2 L1103.4,1507.9 L1100.4,1504.5 L1097.4,1501.0 L1094.5,1497.4 L1091.7,1493.8 L1088.9,1490.0 L1086.2,1486.2 L1083.6,1482.2 L1081.1,1478.2 L1078.7,1474.2 L1076.4,1470.1 L1074.2,1465.9 L1072.1,1461.7 L1070.1,1457.5 L1068.2,1453.2 L1066.5,1448.9 L1064.8,1444.6 L1063.3,1440.3 L1061.9,1435.9 L1060.6,1431.6 L1059.5,1427.3 L1058.5,1423.0 L1057.6,1418.7 L1056.8,1414.5 L1056.2,1410.2 L1055.7,1406.0 L1055.3,1401.9 L1055.1,1397.8 Z" fill="url(#trd)" stroke="#000" stroke-width="1.5" /><g clip-path="url(#wh4)"><ellipse cx="1164.9" cy="1423.3" rx="74.5" ry="121.5" transform="rotate(-31.0 1164.9 1423.3)" fill="none" stroke="#fff" stroke-width="1.1" /><ellipse cx="1187.0" cy="1409.5" rx="76.0" ry="124.0" transform="rotate(-32.0 1187.0 1409.5)" fill="none" stroke="#fff" stroke-width="1.1" /></g><ellipse cx="1142.8" cy="1437.2" rx="74.0" ry="120.0" transform="rotate(-30 1142.8 1437.2)" fill="url(#dk)" stroke="#000" stroke-width="1.5" /><rect x="1201.6" y="1401.2" width="2" height="3" fill="#fff" opacity="0.75"/><rect x="1209.1" y="1415.7" width="2" height="3" fill="#fff" opacity="0.75"/><rect x="1215.3" y="1430.7" width="2" height="3" fill="#fff" opacity="0.75"/><rect x="1220.0" y="1445.7" width="2" height="3" fill="#fff" opacity="0.75"/><rect x="1223.2" y="1460.5" width="2" height="3" fill="#fff" opacity="0.75"/><rect x="1224.6" y="1474.8" width="2" height="3" fill="#fff" opacity="0.75"/><rect x="1224.4" y="1488.4" width="2" height="3" fill="#fff" opacity="0.75"/><rect x="1222.5" y="1500.8" width="2" height="3" fill="#fff" opacity="0.75"/><rect x="1218.9" y="1512.0" width="2" height="3" fill="#fff" opacity="0.75"/><rect x="1213.8" y="1521.5" width="2" height="3" fill="#fff" opacity="0.75"/><rect x="1207.2" y="1529.4" width="2" height="3" fill="#fff" opacity="0.75"/><rect x="1199.3" y="1535.3" width="2" height="3" fill="#fff" opacity="0.75"/><rect x="1190.2" y="1539.2" width="2" height="3" fill="#fff" opacity="0.75"/><rect x="1180.1" y="1541.0" width="2" height="3" fill="#fff" opacity="0.75"/><rect x="1169.3" y="1540.6" width="2" height="3" fill="#fff" opacity="0.75"/><rect x="1157.9" y="1538.1" width="2" height="3" fill="#fff" opacity="0.75"/><rect x="1146.1" y="1533.6" width="2" height="3" fill="#fff" opacity="0.75"/><rect x="1134.3" y="1527.0" width="2" height="3" fill="#fff" opacity="0.75"/><rect x="1122.6" y="1518.6" width="2" height="3" fill="#fff" opacity="0.75"/><rect x="1111.3" y="1508.5" width="2" height="3" fill="#fff" opacity="0.75"/><rect x="1100.7" y="1496.9" width="2" height="3" fill="#fff" opacity="0.75"/><rect x="1090.8" y="1484.0" width="2" height="3" fill="#fff" opacity="0.75"/><rect x="1082.0" y="1470.2" width="2" height="3" fill="#fff" opacity="0.75"/><rect x="1074.5" y="1455.7" width="2" height="3" fill="#fff" opacity="0.75"/><rect x="1068.3" y="1440.7" width="2" height="3" fill="#fff" opacity="0.75"/><rect x="1063.6" y="1425.7" width="2" height="3" fill="#fff" opacity="0.75"/><rect x="1060.4" y="1410.9" width="2" height="3" fill="#fff" opacity="0.75"/><rect x="1059.0" y="1396.6" width="2" height="3" fill="#fff" opacity="0.75"/><rect x="1059.2" y="1383.0" width="2" height="3" fill="#fff" opacity="0.75"/><rect x="1061.1" y="1370.6" width="2" height="3" fill="#fff" opacity="0.75"/><rect x="1064.7" y="1359.4" width="2" height="3" fill="#fff" opacity="0.75"/><rect x="1069.8" y="1349.9" width="2" height="3" fill="#fff" opacity="0.75"/><rect x="1076.4" y="1342.0" width="2" height="3" fill="#fff" opacity="0.75"/><rect x="1084.3" y="1336.1" width="2" height="3" fill="#fff" opacity="0.75"/><rect x="1093.4" y="1332.2" width="2" height="3" fill="#fff" opacity="0.75"/><rect x="1103.5" y="1330.4" width="2" height="3" fill="#fff" opacity="0.75"/><rect x="1114.3" y="1330.8" width="2" height="3" fill="#fff" opacity="0.75"/><rect x="1125.7" y="1333.3" width="2" height="3" fill="#fff" opacity="0.75"/><rect x="1137.5" y="1337.8" width="2" height="3" fill="#fff" opacity="0.75"/><rect x="1149.3" y="1344.4" width="2" height="3" fill="#fff" opacity="0.75"/><rect x="1161.0" y="1352.8" width="2" height="3" fill="#fff" opacity="0.75"/><rect x="1172.3" y="1362.9" width="2" height="3" fill="#fff" opacity="0.75"/><rect x="1182.9" y="1374.5" width="2" height="3" fill="#fff" opacity="0.75"/><rect x="1192.8" y="1387.4" width="2" height="3" fill="#fff" opacity="0.75"/><ellipse cx="1146.0" cy="1433.0" rx="58.0" ry="84.0" transform="rotate(-22 1146.0 1433.0)" fill="#fff" stroke="#000" stroke-width="1.5" /><ellipse cx="1146.0" cy="1433.0" rx="53.0" ry="79.0" transform="rotate(-22 1146.0 1433.0)" fill="none" stroke="#000" stroke-width="1" /><line x1="1147.0" y1="1368.0" x2="1147.0" y2="1408.0" stroke="#000" stroke-width="0.9" /><line x1="1148.6" y1="1368.6" x2="1148.6" y2="1408.6" stroke="#000" stroke-width="0.7" /><line x1="1097.0" y1="1372.0" x2="1129.0" y2="1413.0" stroke="#000" stroke-width="0.9" /><line x1="1098.6" y1="1372.6" x2="1130.6" y2="1413.6" stroke="#000" stroke-width="0.7" /><line x1="1097.0" y1="1436.0" x2="1125.0" y2="1431.0" stroke="#000" stroke-width="0.9" /><line x1="1098.6" y1="1436.6" x2="1126.6" y2="1431.6" stroke="#000" stroke-width="0.7" /><line x1="1153.0" y1="1435.0" x2="1196.0" y2="1429.0" stroke="#000" stroke-width="0.9" /><line x1="1154.6" y1="1435.6" x2="1197.6" y2="1429.6" stroke="#000" stroke-width="0.7" /><line x1="1153.0" y1="1453.0" x2="1196.0" y2="1495.0" stroke="#000" stroke-width="0.9" /><line x1="1154.6" y1="1453.6" x2="1197.6" y2="1495.6" stroke="#000" stroke-width="0.7" /><line x1="1147.0" y1="1458.0" x2="1147.0" y2="1501.0" stroke="#000" stroke-width="0.9" /><line x1="1148.6" y1="1458.6" x2="1148.6" y2="1501.6" stroke="#000" stroke-width="0.7" /><line x1="1130.0" y1="1421.0" x2="1180.0" y2="1400.0" stroke="#000" stroke-width="0.8" /><line x1="1157.0" y1="1451.0" x2="1189.0" y2="1414.0" stroke="#000" stroke-width="0.8" /><line x1="1149.0" y1="1501.0" x2="1183.0" y2="1480.0" stroke="#000" stroke-width="0.8" /><line x1="1097.5" y1="1436.0" x2="1129.5" y2="1419.0" stroke="#000" stroke-width="0.8" /><ellipse cx="1138.5" cy="1439.0" rx="14.5" ry="18.0" transform="rotate(-25 1138.5 1439.0)" fill="#fff" stroke="#000" stroke-width="1.2" /><ellipse cx="1138.5" cy="1439.0" rx="7.0" ry="9.5" transform="rotate(-25 1138.5 1439.0)" fill="#fff" stroke="#000" stroke-width="1.6" /><line x1="162.5" y1="392.5" x2="280.0" y2="325.0" stroke="#000" stroke-width="1" /><line x1="181.0" y1="1645.0" x2="347.5" y2="1554.0" stroke="#000" stroke-width="1" /><line x1="442.5" y1="1494.0" x2="531.5" y2="1445.0" stroke="#000" stroke-width="1" /><line x1="1282.5" y1="1352.5" x2="1301.0" y2="1341.0" stroke="#000" stroke-width="1" /><line x1="1296.0" y1="490.0" x2="1316.0" y2="480.0" stroke="#000" stroke-width="1" /><ellipse cx="192.0" cy="376.0" rx="17.0" ry="21.0" transform="rotate(-25 192.0 376.0)" fill="#fff" stroke="#000" stroke-width="1" /><ellipse cx="189.0" cy="375.0" rx="17.0" ry="21.0" transform="rotate(-25 189.0 375.0)" fill="#fff" stroke="#000" stroke-width="1" /><ellipse cx="188.0" cy="375.0" rx="6.1" ry="7.6" transform="rotate(-25 188.0 375.0)" fill="#fff" stroke="#000" stroke-width="1" /><ellipse cx="159.0" cy="397.0" rx="14.0" ry="14.7" transform="rotate(0 159.0 397.0)" fill="#fff" stroke="#000" stroke-width="1" /><path d="M168.5,398.1 L160.1,406.5 L148.6,403.4 L145.5,391.9 L153.9,383.5 L165.4,386.6 Z" fill="#fff" stroke="#000" stroke-width="1.2" /><ellipse cx="157.0" cy="395.0" rx="5.3" ry="5.9" transform="rotate(0 157.0 395.0)" fill="#fff" stroke="#000" stroke-width="1.2" /><ellipse cx="261.5" cy="1603.0" rx="17.0" ry="21.0" transform="rotate(-25 261.5 1603.0)" fill="#fff" stroke="#000" stroke-width="1" /><ellipse cx="258.5" cy="1602.0" rx="17.0" ry="21.0" transform="rotate(-25 258.5 1602.0)" fill="#fff" stroke="#000" stroke-width="1" /><ellipse cx="257.5" cy="1602.0" rx="6.1" ry="7.6" transform="rotate(-25 257.5 1602.0)" fill="#fff" stroke="#000" stroke-width="1" /><ellipse cx="192.0" cy="1642.0" rx="14.0" ry="14.7" transform="rotate(0 192.0 1642.0)" fill="#fff" stroke="#000" stroke-width="1" /><path d="M201.5,1643.1 L193.1,1651.5 L181.6,1648.4 L178.5,1636.9 L186.9,1628.5 L198.4,1631.6 Z" fill="#fff" stroke="#000" stroke-width="1.2" /><ellipse cx="190.0" cy="1640.0" rx="5.3" ry="5.9" transform="rotate(0 190.0 1640.0)" fill="#fff" stroke="#000" stroke-width="1.2" /><ellipse cx="1263.0" cy="1362.0" rx="17.0" ry="21.0" transform="rotate(-25 1263.0 1362.0)" fill="#fff" stroke="#000" stroke-width="1" /><ellipse cx="1260.0" cy="1361.0" rx="17.0" ry="21.0" transform="rotate(-25 1260.0 1361.0)" fill="#fff" stroke="#000" stroke-width="1" /><ellipse cx="1259.0" cy="1361.0" rx="6.1" ry="7.6" transform="rotate(-25 1259.0 1361.0)" fill="#fff" stroke="#000" stroke-width="1" /><ellipse cx="1312.0" cy="1340.0" rx="15.0" ry="15.8" transform="rotate(0 1312.0 1340.0)" fill="#fff" stroke="#000" stroke-width="1" /><path d="M1322.3,1341.3 L1313.3,1350.3 L1301.0,1347.0 L1297.7,1334.7 L1306.7,1325.7 L1319.0,1329.0 Z" fill="#fff" stroke="#000" stroke-width="1.2" /><ellipse cx="1310.0" cy="1338.0" rx="5.7" ry="6.3" transform="rotate(0 1310.0 1338.0)" fill="#fff" stroke="#000" stroke-width="1.2" /><ellipse cx="1287.5" cy="496.0" rx="15.0" ry="21.0" transform="rotate(-25 1287.5 496.0)" fill="#fff" stroke="#000" stroke-width="1" /><ellipse cx="1284.5" cy="495.0" rx="15.0" ry="21.0" transform="rotate(-25 1284.5 495.0)" fill="#fff" stroke="#000" stroke-width="1" /><ellipse cx="1283.5" cy="495.0" rx="5.4" ry="7.6" transform="rotate(-25 1283.5 495.0)" fill="#fff" stroke="#000" stroke-width="1" /><ellipse cx="1327.0" cy="473.0" rx="14.0" ry="14.7" transform="rotate(0 1327.0 473.0)" fill="#fff" stroke="#000" stroke-width="1" /><path d="M1336.5,474.1 L1328.1,482.5 L1316.6,479.4 L1313.5,467.9 L1321.9,459.5 L1333.4,462.6 Z" fill="#fff" stroke="#000" stroke-width="1.2" /><ellipse cx="1325.0" cy="471.0" rx="5.3" ry="5.9" transform="rotate(0 1325.0 471.0)" fill="#fff" stroke="#000" stroke-width="1.2" /><path d="M921.7,597.5 C920.2,595.0 915.6,590.5 914.0,585.0 C912.4,579.5 912.1,575.2 913.5,570.0 C914.9,564.8 917.3,561.8 921.0,559.0 C924.7,556.2 927.4,555.6 932.0,556.0 C936.6,556.4 940.2,558.0 944.0,561.0 C947.8,564.0 948.8,568.0 951.0,571.0 C953.2,574.0 954.2,575.0 955.0,576.0 L965.2,573.7 L1004.6,637.0 L1002.6,643.0 L948.6,680.5 L942.4,688.8 L942.4,744.8 L942.4,767.6 L932.0,761.4 L923.7,757.3 L919.6,780.0 L911.3,780.0 L845.0,740.7 L842.8,707.5 L847.0,682.6 L856.3,668.0 L921.7,597.5 Z" fill="url(#md)" stroke="#000" stroke-width="5.5" stroke-linejoin="round"/><path d="M960.0,578.0 L997.0,638.0 L946.0,674.0 L938.0,690.0 L938.0,700.0" fill="none" stroke="#000" stroke-width="2.8" stroke-linejoin="round"/><path d="M965,646 L930,672 Q925,680 926,700" fill="none" stroke="#000" stroke-width="10" stroke-linecap="round"/><path d="M966,650 L932,675 Q929,682 929,698" fill="none" stroke="#fff" stroke-width="1.3" stroke-linecap="round"/><ellipse cx="925.8" cy="641.0" rx="4.5" ry="5.4" transform="rotate(0 925.8 641.0)" fill="#000" stroke="none" stroke-width="1" /><ellipse cx="961.0" cy="626.6" rx="5.0" ry="6.0" transform="rotate(0 961.0 626.6)" fill="#000" stroke="none" stroke-width="1" /><ellipse cx="973.5" cy="630.7" rx="4.5" ry="5.4" transform="rotate(0 973.5 630.7)" fill="#000" stroke="none" stroke-width="1" /><ellipse cx="929.0" cy="720.0" rx="5.0" ry="6.0" transform="rotate(0 929.0 720.0)" fill="#000" stroke="none" stroke-width="1" /><ellipse cx="859.4" cy="731.3" rx="4.0" ry="4.8" transform="rotate(0 859.4 731.3)" fill="#000" stroke="none" stroke-width="1" /><ellipse cx="913.4" cy="744.8" rx="5.0" ry="6.0" transform="rotate(0 913.4 744.8)" fill="#000" stroke="none" stroke-width="1" /><ellipse cx="917.5" cy="761.4" rx="4.0" ry="4.8" transform="rotate(0 917.5 761.4)" fill="#000" stroke="none" stroke-width="1" /><path d="M925,570 L940,585" fill="none" stroke="#000" stroke-width="7" stroke-linecap="round"/><path d="M1015.0,599.6 L1019.2,593.4 L1027.5,589.2 L1029.5,592.3 L1035.8,586.1 L1039.9,589.2 L1048.2,583.0 L1052.4,587.1 L1058.6,585.1 L1060.7,591.3 L1069.0,591.3 L1071.0,597.5 L1081.4,603.7 L1075.2,612.0 L1077.3,628.6 L1093.9,643.2 L1098.0,657.7 L1091.8,676.3 L1087.6,680.5 L1056.5,682.6 L1031.6,657.7 L1025.4,641.1 L1027.5,624.5 L1015.0,603.7 Z" fill="#fff" stroke="#000" stroke-width="3.5" stroke-linejoin="round"/><path d="M1021.2,520.7 L1039.9,520.7 L1050.3,556.0 L1033.7,556.0 Z" fill="#000" stroke="#000" stroke-width="1" /><path d="M1033.7,556.0 L1050.3,556.0 L1048.2,583.0 L1037.8,583.0 Z" fill="#fff" stroke="#000" stroke-width="1.5" /><path d="M1081.4,603.7 L1093.9,601.7 L1098.0,612.0 L1087.6,616.2 Z" fill="#000" stroke="#000" stroke-width="1" /><ellipse cx="1058.0" cy="656.0" rx="10.0" ry="7.0" transform="rotate(-25 1058.0 656.0)" fill="none" stroke="#000" stroke-width="3" /><path d="M1058.6,666.0 L1073.1,663.9 L1075.2,672.2 L1060.7,678.4 Z" fill="#000" stroke="#000" stroke-width="1" /><ellipse cx="1008.8" cy="582.0" rx="11.0" ry="13.0" transform="rotate(-20 1008.8 582.0)" fill="#fff" stroke="#000" stroke-width="1" /><ellipse cx="1006.0" cy="580.0" rx="5.0" ry="6.0" transform="rotate(-20 1006.0 580.0)" fill="#fff" stroke="#000" stroke-width="1" /><path d="M290.0,925.0 L305.0,911.0 L322.5,917.5 L330.0,932.5 L375.0,1000.0 L370.0,1005.0 L320.0,1042.5 L317.5,1050.0 L320.0,1122.5 L300.0,1112.5 L295.0,1117.5 L295.0,1137.5 L285.0,1137.5 L220.0,1095.0 L217.5,1075.0 L220.0,1040.0 L230.0,1020.0 L297.5,947.5 L290.0,932.5 Z" fill="url(#md)" stroke="#000" stroke-width="5.5" stroke-linejoin="round"/><path d="M300.0,925.0 L364.0,998.0 L318.0,1033.0 L312.0,1045.0 L312.0,1060.0" fill="none" stroke="#000" stroke-width="2.8" stroke-linejoin="round"/><path d="M341,997 L306,1024 Q301,1030 302,1058" fill="none" stroke="#000" stroke-width="10" stroke-linecap="round"/><path d="M342,1001 L308,1027 Q305,1032 305,1056" fill="none" stroke="#fff" stroke-width="1.3" stroke-linecap="round"/><ellipse cx="337.5" cy="982.5" rx="6.0" ry="7.2" transform="rotate(0 337.5 982.5)" fill="#000" stroke="none" stroke-width="1" /><ellipse cx="302.5" cy="995.0" rx="4.0" ry="4.8" transform="rotate(0 302.5 995.0)" fill="#000" stroke="none" stroke-width="1" /><ellipse cx="305.0" cy="1075.0" rx="5.0" ry="6.0" transform="rotate(0 305.0 1075.0)" fill="#000" stroke="none" stroke-width="1" /><ellipse cx="235.0" cy="1087.5" rx="4.0" ry="4.8" transform="rotate(0 235.0 1087.5)" fill="#000" stroke="none" stroke-width="1" /><ellipse cx="290.0" cy="1100.0" rx="6.0" ry="7.2" transform="rotate(0 290.0 1100.0)" fill="#000" stroke="none" stroke-width="1" /><path d="M300,925 L315,938" fill="none" stroke="#000" stroke-width="7" stroke-linecap="round"/><line x1="262.0" y1="990.0" x2="268.0" y2="980.0" stroke="#fff" stroke-width="3" /><ellipse cx="202.0" cy="1060.0" rx="10.0" ry="11.0" transform="rotate(0 202.0 1060.0)" fill="#fff" stroke="#000" stroke-width="1" /><ellipse cx="196.0" cy="1062.0" rx="9.0" ry="10.0" transform="rotate(0 196.0 1062.0)" fill="#fff" stroke="#000" stroke-width="1" /><path d="M142.8,1107.2 L151.7,1100.6 L179.4,1097.2 L196.1,1102.8 L207.2,1111.7 L211.7,1117.2 L206.1,1125.0 L207.2,1141.7 L227.2,1158.3 L231.7,1169.4 L228.3,1191.7 L223.9,1202.8 L190.6,1205.0 L176.1,1185.0" fill="none" stroke="#000" stroke-width="3.4" stroke-linecap="round" stroke-linejoin="round"/><path d="M137.2,1117.2 L153.9,1127.2 L162.8,1136.1" fill="none" stroke="#000" stroke-width="2.5" stroke-linecap="round" stroke-linejoin="round"/><path d="M142.8,1140.6 L191.7,1133.9 L211.7,1182.8 L160.6,1187.2 Z" fill="#fff" stroke="#000" stroke-width="3.4" stroke-linecap="round" stroke-linejoin="round"/><path d="M143.9,1072.8 L153.9,1091.7 L165.0,1121.7 L169.4,1142.8 L183.9,1141.7 L179.4,1102.8 L167.2,1071.7" fill="#fff" stroke="#000" stroke-width="3.4" stroke-linecap="round" stroke-linejoin="round"/><path d="M165.0,1122.8 L180.6,1120.6" fill="none" stroke="#000" stroke-width="2" stroke-linecap="round" stroke-linejoin="round"/><path d="M126.1,1037.2 L145.0,1036.1 L157.2,1068.3 L143.9,1071.7 Z" fill="#000" stroke="#000" stroke-width="3" stroke-linecap="round" stroke-linejoin="round"/><path d="M179.4,1178.3 L196.1,1173.9 L202.8,1180.6 L185.0,1185.0 Z" fill="#000" stroke="#000" stroke-width="2" stroke-linecap="round" stroke-linejoin="round"/><ellipse cx="180.0" cy="1158.0" rx="10.0" ry="11.0" transform="rotate(0 180.0 1158.0)" fill="#fff" stroke="#000" stroke-width="1.2" /><ellipse cx="182.0" cy="1159.0" rx="8.0" ry="9.0" transform="rotate(0 182.0 1159.0)" fill="none" stroke="#000" stroke-width="1" /><path d="M96.1,1191.7 L156.1,1157.2 L166.1,1172.8 L103.9,1208.3 Z" fill="#fff" stroke="#000" stroke-width="3.2" stroke-linecap="round" stroke-linejoin="round"/><ellipse cx="98.0" cy="1200.0" rx="5.0" ry="7.0" transform="rotate(-30 98.0 1200.0)" fill="#fff" stroke="#000" stroke-width="2.5" /><ellipse cx="161.5" cy="1165.0" rx="8.0" ry="11.0" transform="rotate(-30 161.5 1165.0)" fill="#fff" stroke="#000" stroke-width="3.5" /><path d="M1180.0,950.0 L1186.7,953.3 L1186.7,973.3 L1175.0,980.0 L1176.7,993.3 L1193.3,1028.3 L1231.7,1048.3 L1251.7,1036.7 L1251.7,1020.0 L1240.0,993.3 L1246.7,988.3 L1233.3,976.7 L1216.7,960.0 L1200.0,946.7 Z" fill="#fff" stroke="#000" stroke-width="1" /><rect x="1193.0" y="941.0" width="6" height="6" fill="#fff" stroke="#000" stroke-width="1" transform="rotate(35 1196.0 944.0)"/><rect x="1203.0" y="949.4" width="6" height="6" fill="#fff" stroke="#000" stroke-width="1" transform="rotate(35 1206.0 952.4)"/><rect x="1213.0" y="957.8" width="6" height="6" fill="#fff" stroke="#000" stroke-width="1" transform="rotate(35 1216.0 960.8)"/><rect x="1223.0" y="966.2" width="6" height="6" fill="#fff" stroke="#000" stroke-width="1" transform="rotate(35 1226.0 969.2)"/><rect x="1233.0" y="974.6" width="6" height="6" fill="#fff" stroke="#000" stroke-width="1" transform="rotate(35 1236.0 977.6)"/><rect x="1243.0" y="983.0" width="6" height="6" fill="#fff" stroke="#000" stroke-width="1" transform="rotate(35 1246.0 986.0)"/><path d="M1205.0,887.5 L1231.7,900.0 L1231.7,933.3 L1205.0,923.3 Z" fill="#000" stroke="#000" stroke-width="1" /><line x1="1206.7" y1="923.0" x2="1208.0" y2="953.0" stroke="#000" stroke-width="2.2" /><line x1="1228.0" y1="933.0" x2="1228.0" y2="958.0" stroke="#000" stroke-width="2.2" /><path d="M1241.7,990.0 C1242.5,991.9 1245.0,996.7 1246.7,1001.7 C1248.3,1006.7 1250.8,1014.2 1251.7,1020.0 C1252.5,1025.8 1251.7,1033.9 1251.7,1036.7" fill="none" stroke="#000" stroke-width="3" /><line x1="1245.0" y1="993.3" x2="1261.7" y2="986.7" stroke="#000" stroke-width="1" /><line x1="1246.7" y1="1001.7" x2="1266.7" y2="993.3" stroke="#000" stroke-width="1" /><path d="M1198,1008 l8,-4 l8,2 l-2,6 l-10,2 z" fill="#fff" stroke="#000" stroke-width="1" /><path d="M531.1,1336.7 C533.1,1335.9 538.5,1333.0 543.3,1332.2 C548.1,1331.5 554.6,1331.3 560.0,1332.2 C565.4,1333.1 573.0,1336.9 575.6,1337.8" fill="none" stroke="#000" stroke-width="3.4" stroke-linecap="round" stroke-linejoin="round"/><path d="M538.9,1337.8 C540.2,1340.6 545.1,1349.6 546.7,1354.4 C548.2,1359.3 548.0,1358.3 548.3,1366.7 C548.7,1375.0 548.8,1398.1 548.9,1404.4" fill="none" stroke="#000" stroke-width="3.4" stroke-linecap="round" stroke-linejoin="round"/><path d="M543.3,1364.4 C541.9,1365.3 536.1,1366.5 534.4,1369.4 C532.8,1372.4 532.6,1377.9 533.3,1382.2 C534.1,1386.6 537.0,1391.9 538.9,1395.6 C540.7,1399.3 541.5,1401.5 544.4,1404.4 C547.4,1407.4 554.6,1411.9 556.7,1413.3" fill="none" stroke="#000" stroke-width="3.4" stroke-linecap="round" stroke-linejoin="round"/><path d="M581.1,1344.4 L590.0,1351.1 L596.7,1356.7 L605.6,1366.7 L608.9,1374.4 L602.2,1381.1 L598.9,1382.2 L601.1,1393.3 L610.0,1408.9 L612.2,1415.6 L607.8,1424.4 L605.6,1437.8 L582.2,1426.7" fill="none" stroke="#000" stroke-width="3.4" stroke-linecap="round" stroke-linejoin="round"/><path d="M576.7,1382.2 L602.2,1393.3 L605.6,1437.8" fill="none" stroke="#000" stroke-width="3.4" stroke-linecap="round" stroke-linejoin="round"/><path d="M562.2,1320.0 L562.2,1375.6 L578.9,1382.2 L581.1,1380.0 L581.1,1320.0" fill="#fff" stroke="#000" stroke-width="3.4" stroke-linecap="round" stroke-linejoin="round"/><path d="M562.2,1357.8 L576.7,1365.6" fill="none" stroke="#000" stroke-width="2" stroke-linecap="round" stroke-linejoin="round"/><path d="M562.2,1364.4 L576.7,1372.2" fill="none" stroke="#000" stroke-width="2" stroke-linecap="round" stroke-linejoin="round"/><path d="M553.3,1274.4 L576.7,1284.4 L580.0,1320.0 L555.6,1315.6 Z" fill="#000" stroke="#000" stroke-width="3" stroke-linecap="round" stroke-linejoin="round"/><ellipse cx="563.0" cy="1397.0" rx="11.0" ry="11.0" transform="rotate(0 563.0 1397.0)" fill="#fff" stroke="#000" stroke-width="3" /><ellipse cx="560.0" cy="1398.0" rx="4.0" ry="6.0" transform="rotate(-20 560.0 1398.0)" fill="#fff" stroke="#000" stroke-width="1.5" /><path d="M520.0,1442.2 L587.8,1402.2 L594.4,1414.4 L526.7,1454.4 Z" fill="#fff" stroke="#000" stroke-width="3.2" stroke-linecap="round" stroke-linejoin="round"/><ellipse cx="523.0" cy="1447.0" rx="5.0" ry="6.0" transform="rotate(-30 523.0 1447.0)" fill="#fff" stroke="#000" stroke-width="2.5" /><ellipse cx="590.0" cy="1410.0" rx="8.0" ry="11.0" transform="rotate(-30 590.0 1410.0)" fill="#fff" stroke="#000" stroke-width="3" /><path d="M562.5,1647.5 L647.5,1595.0 L650.0,1591.0 L747.5,1517.5 L792.0,1492.0 L813.0,1491.0 L886.0,1458.0 L904.0,1435.0 L913.0,1424.0 L978.0,1385.0 L1000.0,1395.0 L1023.0,1427.5 L938.0,1480.0 L848.0,1522.5 L797.5,1545.0 L792.5,1560.0 L697.5,1622.5 L685.0,1617.5 L672.5,1607.5 L595.0,1653.8 Z" fill="#000" stroke="#000" stroke-width="1.5" stroke-linejoin="round"/><path d="M750,1520 Q770,1545 792,1548" fill="none" stroke="#fff" stroke-width="0.8" /><path d="M800,1490 Q830,1505 840,1530" fill="none" stroke="#fff" stroke-width="0.8" /><path d="M598,1650 L680,1612 L700,1625" fill="none" stroke="#fff" stroke-width="0.8" /><path d="M850,1522 L910,1495 L1020,1430" fill="none" stroke="#fff" stroke-width="0.8" /><path d="M813,1493 L886,1461 L906,1437 L976,1395" fill="none" stroke="#fff" stroke-width="0.8" /><ellipse cx="792.5" cy="1517.5" rx="6.0" ry="3.5" transform="rotate(0 792.5 1517.5)" fill="#fff" stroke="#000" stroke-width="1" /><ellipse cx="792.5" cy="1430.0" rx="35.0" ry="20.0" transform="rotate(0 792.5 1430.0)" fill="#fff" stroke="#000" stroke-width="2.5" /><ellipse cx="792.5" cy="1424.0" rx="35.0" ry="19.0" transform="rotate(0 792.5 1424.0)" fill="#fff" stroke="#000" stroke-width="2.5" /><path d="M772.5,1390 L772.5,1424 A20,11 0 0 0 813,1424 L813,1390" fill="#fff" stroke="#000" stroke-width="2.5" /><ellipse cx="793.0" cy="1390.0" rx="20.0" ry="11.0" transform="rotate(0 793.0 1390.0)" fill="#fff" stroke="#000" stroke-width="2.5" /><ellipse cx="793.0" cy="1391.0" rx="14.0" ry="8.0" transform="rotate(0 793.0 1391.0)" fill="#fff" stroke="#000" stroke-width="1" /><path d="M769,1592 L769,1600 A23,12 0 0 0 815,1600 L815,1592 Z" fill="#fff" stroke="#000" stroke-width="1"/><ellipse cx="792.0" cy="1592.0" rx="23.0" ry="12.0" transform="rotate(0 792.0 1592.0)" fill="#fff" stroke="#000" stroke-width="1" /><ellipse cx="792.0" cy="1592.0" rx="7.6" ry="4.8" transform="rotate(0 792.0 1592.0)" fill="#fff" stroke="#000" stroke-width="1" /><path d="M769,1630 L769,1638 A23,12 0 0 0 815,1638 L815,1630 Z" fill="#fff" stroke="#000" stroke-width="1"/><ellipse cx="792.0" cy="1630.0" rx="23.0" ry="12.0" transform="rotate(0 792.0 1630.0)" fill="#fff" stroke="#000" stroke-width="1" /><ellipse cx="792.0" cy="1630.0" rx="7.6" ry="4.8" transform="rotate(0 792.0 1630.0)" fill="#fff" stroke="#000" stroke-width="1" /><path d="M777.5,1661 L777.5,1667 A15,8 0 0 0 807.5,1667 L807.5,1661 Z" fill="#fff" stroke="#000" stroke-width="1"/><ellipse cx="792.5" cy="1661.0" rx="15.0" ry="8.0" transform="rotate(0 792.5 1661.0)" fill="#fff" stroke="#000" stroke-width="1" /><ellipse cx="792.5" cy="1661.0" rx="5.0" ry="3.2" transform="rotate(0 792.5 1661.0)" fill="#fff" stroke="#000" stroke-width="1" /><path d="M786,1682 L799,1682 L799,1735 L786,1735 Z" fill="#fff" stroke="#000" stroke-width="1" /><path d="M784,1684 Q792,1680 801,1686" fill="none" stroke="#000" stroke-width="1.5" /><path d="M784,1690 Q792,1686 801,1692" fill="none" stroke="#000" stroke-width="1.5" /><path d="M784,1696 Q792,1692 801,1698" fill="none" stroke="#000" stroke-width="1.5" /><path d="M784,1702 Q792,1698 801,1704" fill="none" stroke="#000" stroke-width="1.5" /><path d="M784,1708 Q792,1704 801,1710" fill="none" stroke="#000" stroke-width="1.5" /><path d="M781.0,1736.0 L792.0,1731.0 L804.0,1736.0 L804.0,1748.0 L792.0,1753.0 L781.0,1748.0 Z" fill="#fff" stroke="#000" stroke-width="1" /><ellipse cx="448.0" cy="1079.0" rx="12.0" ry="12.6" transform="rotate(0 448.0 1079.0)" fill="#fff" stroke="#000" stroke-width="1" /><path d="M455.9,1079.6 L448.6,1086.9 L438.8,1084.2 L436.1,1074.4 L443.4,1067.1 L453.2,1069.8 Z" fill="#fff" stroke="#000" stroke-width="1.2" /><ellipse cx="446.0" cy="1077.0" rx="4.6" ry="5.0" transform="rotate(0 446.0 1077.0)" fill="#fff" stroke="#000" stroke-width="1.2" /><ellipse cx="914.0" cy="1318.0" rx="12.0" ry="12.6" transform="rotate(0 914.0 1318.0)" fill="#fff" stroke="#000" stroke-width="1" /><path d="M921.9,1318.6 L914.6,1325.9 L904.8,1323.2 L902.1,1313.4 L909.4,1306.1 L919.2,1308.8 Z" fill="#fff" stroke="#000" stroke-width="1.2" /><ellipse cx="912.0" cy="1316.0" rx="4.6" ry="5.0" transform="rotate(0 912.0 1316.0)" fill="#fff" stroke="#000" stroke-width="1.2" /><ellipse cx="1127.0" cy="1197.0" rx="12.0" ry="12.6" transform="rotate(0 1127.0 1197.0)" fill="#fff" stroke="#000" stroke-width="1" /><path d="M1134.9,1197.6 L1127.6,1204.9 L1117.8,1202.2 L1115.1,1192.4 L1122.4,1185.1 L1132.2,1187.8 Z" fill="#fff" stroke="#000" stroke-width="1.2" /><ellipse cx="1125.0" cy="1195.0" rx="4.6" ry="5.0" transform="rotate(0 1125.0 1195.0)" fill="#fff" stroke="#000" stroke-width="1.2" /><ellipse cx="839.0" cy="985.0" rx="15.0" ry="7.0" transform="rotate(0 839.0 985.0)" fill="#fff" stroke="#000" stroke-width="1.2" /><ellipse cx="839.0" cy="981.0" rx="12.0" ry="6.0" transform="rotate(0 839.0 981.0)" fill="#fff" stroke="#000" stroke-width="1.2" /><path d="M833,950 L845,950 L845,978 L833,978 Z" fill="#fff" stroke="#000" stroke-width="1" /><path d="M831,952 Q839,948 847,954" fill="none" stroke="#000" stroke-width="1.3" /><path d="M831,958 Q839,954 847,960" fill="none" stroke="#000" stroke-width="1.3" /><path d="M831,964 Q839,960 847,966" fill="none" stroke="#000" stroke-width="1.3" /><path d="M831,970 Q839,966 847,972" fill="none" stroke="#000" stroke-width="1.3" /><ellipse cx="573.0" cy="472.0" rx="15.0" ry="6.0" transform="rotate(0 573.0 472.0)" fill="#fff" stroke="#000" stroke-width="1.2" /><path d="M562,459 L562,468 Q573,474 584,468 L584,459 Z" fill="#fff" stroke="#000" stroke-width="1.2" /><path d="M562.0,459.0 L567.0,454.0 L579.0,454.0 L584.0,459.0 L579.0,463.0 L567.0,463.0 Z" fill="#fff" stroke="#000" stroke-width="1.2" /><line x1="573.0" y1="463.0" x2="573.0" y2="470.0" stroke="#000" stroke-width="0.8" /><path d="M567,478 L579,478 L577,496 L569,496 Z" fill="#fff" stroke="#000" stroke-width="1" /><path d="M566,482 Q573,479 580,484" fill="none" stroke="#000" stroke-width="1" /><path d="M566,487 Q573,484 580,489" fill="none" stroke="#000" stroke-width="1" /><path d="M566,492 Q573,489 580,494" fill="none" stroke="#000" stroke-width="1" /><path d="M175,705 Q172,688 190,686 Q208,688 205,705 Z" fill="#fff" stroke="#000" stroke-width="1.2" /><path d="M186,690 Q192,688 196,694" fill="none" stroke="#000" stroke-width="1" /><path d="M184,706 L197,706 L196,742 L186,742 Z" fill="#fff" stroke="#000" stroke-width="1" /><path d="M182,710 Q190,707 199,712" fill="none" stroke="#000" stroke-width="1" /><path d="M182,715 Q190,712 199,717" fill="none" stroke="#000" stroke-width="1" /><path d="M182,720 Q190,717 199,722" fill="none" stroke="#000" stroke-width="1" /><path d="M182,725 Q190,722 199,727" fill="none" stroke="#000" stroke-width="1" /><path d="M182,730 Q190,727 199,732" fill="none" stroke="#000" stroke-width="1" /><path d="M182,735 Q190,732 199,737" fill="none" stroke="#000" stroke-width="1" /><line x1="191.0" y1="743.0" x2="191.0" y2="772.0" stroke="#000" stroke-width="1" /><path d="M173,779 L173,785 A14,8 0 0 0 201,785 L201,779 Z" fill="#fff" stroke="#000" stroke-width="1"/><ellipse cx="187.0" cy="779.0" rx="14.0" ry="8.0" transform="rotate(0 187.0 779.0)" fill="#fff" stroke="#000" stroke-width="1" /><ellipse cx="187.0" cy="779.0" rx="4.6" ry="3.2" transform="rotate(0 187.0 779.0)" fill="#fff" stroke="#000" stroke-width="1" /><line x1="190.0" y1="793.0" x2="190.0" y2="827.0" stroke="#000" stroke-width="1" /><path d="M516.3,594.9 L554.8,573.5 L548.2,561.7 L509.7,583.1 Z" fill="#222" stroke="#000" stroke-width="1.2" /><ellipse cx="514.4" cy="588.2" rx="2.4" ry="6.5" transform="rotate(-29.06723822886421 514.4 588.2)" fill="none" stroke="#fff" stroke-width="0.8" /><ellipse cx="517.1" cy="586.7" rx="2.4" ry="6.5" transform="rotate(-29.06723822886421 517.1 586.7)" fill="none" stroke="#fff" stroke-width="0.8" /><ellipse cx="519.9" cy="585.2" rx="2.4" ry="6.5" transform="rotate(-29.06723822886421 519.9 585.2)" fill="none" stroke="#fff" stroke-width="0.8" /><ellipse cx="522.6" cy="583.6" rx="2.4" ry="6.5" transform="rotate(-29.06723822886421 522.6 583.6)" fill="none" stroke="#fff" stroke-width="0.8" /><ellipse cx="525.4" cy="582.1" rx="2.4" ry="6.5" transform="rotate(-29.06723822886421 525.4 582.1)" fill="none" stroke="#fff" stroke-width="0.8" /><ellipse cx="528.1" cy="580.6" rx="2.4" ry="6.5" transform="rotate(-29.06723822886421 528.1 580.6)" fill="none" stroke="#fff" stroke-width="0.8" /><ellipse cx="530.9" cy="579.1" rx="2.4" ry="6.5" transform="rotate(-29.06723822886421 530.9 579.1)" fill="none" stroke="#fff" stroke-width="0.8" /><ellipse cx="533.6" cy="577.5" rx="2.4" ry="6.5" transform="rotate(-29.06723822886421 533.6 577.5)" fill="none" stroke="#fff" stroke-width="0.8" /><ellipse cx="536.4" cy="576.0" rx="2.4" ry="6.5" transform="rotate(-29.06723822886421 536.4 576.0)" fill="none" stroke="#fff" stroke-width="0.8" /><ellipse cx="539.1" cy="574.5" rx="2.4" ry="6.5" transform="rotate(-29.06723822886421 539.1 574.5)" fill="none" stroke="#fff" stroke-width="0.8" /><ellipse cx="541.9" cy="573.0" rx="2.4" ry="6.5" transform="rotate(-29.06723822886421 541.9 573.0)" fill="none" stroke="#fff" stroke-width="0.8" /><ellipse cx="544.6" cy="571.4" rx="2.4" ry="6.5" transform="rotate(-29.06723822886421 544.6 571.4)" fill="none" stroke="#fff" stroke-width="0.8" /><ellipse cx="547.4" cy="569.9" rx="2.4" ry="6.5" transform="rotate(-29.06723822886421 547.4 569.9)" fill="none" stroke="#fff" stroke-width="0.8" /><ellipse cx="550.1" cy="568.4" rx="2.4" ry="6.5" transform="rotate(-29.06723822886421 550.1 568.4)" fill="none" stroke="#fff" stroke-width="0.8" /><path d="M556.0,567.3 L598.6,548.4 L592.6,534.6 L550.0,553.5 Z" fill="#222" stroke="#000" stroke-width="1.2" /><ellipse cx="554.4" cy="559.8" rx="2.6" ry="7.1" transform="rotate(-23.925040758006624 554.4 559.8)" fill="none" stroke="#fff" stroke-width="0.8" /><ellipse cx="557.3" cy="558.5" rx="2.6" ry="7.1" transform="rotate(-23.925040758006624 557.3 558.5)" fill="none" stroke="#fff" stroke-width="0.8" /><ellipse cx="560.1" cy="557.2" rx="2.6" ry="7.1" transform="rotate(-23.925040758006624 560.1 557.2)" fill="none" stroke="#fff" stroke-width="0.8" /><ellipse cx="562.9" cy="556.0" rx="2.6" ry="7.1" transform="rotate(-23.925040758006624 562.9 556.0)" fill="none" stroke="#fff" stroke-width="0.8" /><ellipse cx="565.8" cy="554.7" rx="2.6" ry="7.1" transform="rotate(-23.925040758006624 565.8 554.7)" fill="none" stroke="#fff" stroke-width="0.8" /><ellipse cx="568.6" cy="553.5" rx="2.6" ry="7.1" transform="rotate(-23.925040758006624 568.6 553.5)" fill="none" stroke="#fff" stroke-width="0.8" /><ellipse cx="571.5" cy="552.2" rx="2.6" ry="7.1" transform="rotate(-23.925040758006624 571.5 552.2)" fill="none" stroke="#fff" stroke-width="0.8" /><ellipse cx="574.3" cy="551.0" rx="2.6" ry="7.1" transform="rotate(-23.925040758006624 574.3 551.0)" fill="none" stroke="#fff" stroke-width="0.8" /><ellipse cx="577.1" cy="549.7" rx="2.6" ry="7.1" transform="rotate(-23.925040758006624 577.1 549.7)" fill="none" stroke="#fff" stroke-width="0.8" /><ellipse cx="580.0" cy="548.4" rx="2.6" ry="7.1" transform="rotate(-23.925040758006624 580.0 548.4)" fill="none" stroke="#fff" stroke-width="0.8" /><ellipse cx="582.8" cy="547.2" rx="2.6" ry="7.1" transform="rotate(-23.925040758006624 582.8 547.2)" fill="none" stroke="#fff" stroke-width="0.8" /><ellipse cx="585.7" cy="545.9" rx="2.6" ry="7.1" transform="rotate(-23.925040758006624 585.7 545.9)" fill="none" stroke="#fff" stroke-width="0.8" /><ellipse cx="588.5" cy="544.6" rx="2.6" ry="7.1" transform="rotate(-23.925040758006624 588.5 544.6)" fill="none" stroke="#fff" stroke-width="0.8" /><ellipse cx="591.3" cy="543.4" rx="2.6" ry="7.1" transform="rotate(-23.925040758006624 591.3 543.4)" fill="none" stroke="#fff" stroke-width="0.8" /><ellipse cx="594.2" cy="542.1" rx="2.6" ry="7.1" transform="rotate(-23.925040758006624 594.2 542.1)" fill="none" stroke="#fff" stroke-width="0.8" /><ellipse cx="513.0" cy="589.0" rx="4.0" ry="6.5" transform="rotate(-30 513.0 589.0)" fill="#fff" stroke="#000" stroke-width="1.2" /><ellipse cx="513.0" cy="589.0" rx="2.0" ry="3.5" transform="rotate(-30 513.0 589.0)" fill="#fff" stroke="#000" stroke-width="0.8" /><path d="M507,588 L501,578 L506,572 L494,576 L492,571" fill="none" stroke="#000" stroke-width="1.5" stroke-linejoin="round"/><path d="M580,541 L578,530 L592,521 L594,524" fill="none" stroke="#000" stroke-width="1.5" stroke-linejoin="round"/><path d="M551.0,557.0 C551.7,555.5 550.8,553.8 556.0,556.0 C561.2,558.2 577.8,566.7 582.0,570.0 C586.2,573.3 582.0,575.0 581.0,576.0 C580.0,577.0 580.8,577.8 576.0,576.0 C571.2,574.2 556.2,568.2 552.0,565.0 C547.8,561.8 550.3,558.5 551.0,557.0 Z" fill="#fff" stroke="#000" stroke-width="1.2" /><ellipse cx="558.0" cy="563.0" rx="3.0" ry="4.0" transform="rotate(-30 558.0 563.0)" fill="#fff" stroke="#000" stroke-width="1" /><path d="M719.0,623.0 L1053.0,433.0 L1058.0,442.0 L723.6,632.0 Z" fill="#fff" stroke="#000" stroke-width="2.5" stroke-linejoin="round"/><ellipse cx="721.0" cy="627.5" rx="3.5" ry="5.0" transform="rotate(-30 721.0 627.5)" fill="#fff" stroke="#000" stroke-width="2" /><g style="filter:grayscale(0)"><text x="1287" y="1785" font-family="Liberation Serif" font-size="36" textLength="128" lengthAdjust="spacingAndGlyphs"><tspan fill="#4a6ab8">m</tspan><tspan fill="#3aa040">o</tspan><tspan fill="#e060a0">t</tspan><tspan fill="#3a9a40">o</tspan><tspan fill="#e04a20">r</tspan><tspan fill="#f0a020">u</tspan><tspan fill="#f0d020">f</tspan></text><text x="1415" y="1785" font-family="Liberation Serif" font-size="17" fill="#333">.de</text></g><line x1="729.8" y1="556.6" x2="753.4" y2="597.0" stroke="#000" stroke-width="2.2" /><line x1="1005.5" y1="254.0" x2="1050.5" y2="242.5" stroke="#000" stroke-width="2.2" /><line x1="1218.0" y1="380.0" x2="1205.5" y2="425.0" stroke="#000" stroke-width="2.2" /><line x1="529.0" y1="410.0" x2="552.5" y2="447.5" stroke="#000" stroke-width="2.2" /><line x1="531.0" y1="507.5" x2="555.0" y2="544.0" stroke="#000" stroke-width="2.2" /><line x1="165.8" y1="416.0" x2="178.3" y2="459.6" stroke="#000" stroke-width="2.2" /><line x1="203.6" y1="402.8" x2="223.6" y2="445.4" stroke="#000" stroke-width="2.2" /><line x1="289.0" y1="433.4" x2="276.6" y2="478.3" stroke="#000" stroke-width="2.2" /><line x1="1331.5" y1="505.0" x2="1354.0" y2="544.0" stroke="#000" stroke-width="2.2" /><line x1="1303.0" y1="516.5" x2="1342.0" y2="622.5" stroke="#000" stroke-width="3" /><line x1="156.0" y1="641.0" x2="178.5" y2="680.0" stroke="#000" stroke-width="2.2" /><line x1="375.0" y1="650.0" x2="400.0" y2="692.5" stroke="#000" stroke-width="2.2" /><line x1="121.5" y1="726.0" x2="178.5" y2="777.5" stroke="#000" stroke-width="3" /><line x1="705.0" y1="680.0" x2="665.0" y2="692.5" stroke="#000" stroke-width="2.2" /><line x1="755.5" y1="737.5" x2="740.5" y2="825.0" stroke="#000" stroke-width="2.2" /><line x1="1008.0" y1="605.0" x2="1026.5" y2="710.0" stroke="#000" stroke-width="2.2" /><line x1="1095.5" y1="677.5" x2="1128.0" y2="710.0" stroke="#000" stroke-width="2.2" /><line x1="939.0" y1="750.0" x2="969.0" y2="782.5" stroke="#000" stroke-width="2.2" /><line x1="1063.0" y1="847.5" x2="1033.0" y2="878.5" stroke="#000" stroke-width="2.2" /><line x1="601.0" y1="904.5" x2="567.0" y2="935.7" stroke="#000" stroke-width="2.2" /><line x1="1173.0" y1="907.5" x2="1193.0" y2="947.5" stroke="#000" stroke-width="2.2" /><line x1="245.0" y1="950.0" x2="263.5" y2="992.5" stroke="#000" stroke-width="2.2" /><line x1="187.5" y1="999.0" x2="199.0" y2="1041.0" stroke="#000" stroke-width="2.2" /><line x1="112.5" y1="1087.5" x2="152.5" y2="1112.5" stroke="#000" stroke-width="2.2" /><line x1="387.5" y1="1080.0" x2="431.0" y2="1070.0" stroke="#000" stroke-width="2.2" /><line x1="728.0" y1="1380.0" x2="775.5" y2="1390.0" stroke="#000" stroke-width="2.2" /><line x1="612.5" y1="1422.5" x2="655.0" y2="1434.0" stroke="#000" stroke-width="2.2" /><line x1="475.0" y1="1597.5" x2="515.0" y2="1610.0" stroke="#000" stroke-width="2.2" /><line x1="276.5" y1="1630.0" x2="301.5" y2="1672.5" stroke="#000" stroke-width="2.2" /><line x1="199.0" y1="1660.0" x2="221.5" y2="1697.5" stroke="#000" stroke-width="2.2" /><line x1="774.5" y1="981.5" x2="818.0" y2="971.5" stroke="#000" stroke-width="2.2" /><line x1="1073.0" y1="1252.5" x2="1123.0" y2="1202.5" stroke="#000" stroke-width="2.2" /><line x1="945.5" y1="1311.0" x2="1023.0" y2="1285.0" stroke="#000" stroke-width="2.2" /><line x1="1324.0" y1="1361.0" x2="1338.0" y2="1400.0" stroke="#000" stroke-width="2.2" /><line x1="1282.0" y1="1389.0" x2="1320.5" y2="1481.0" stroke="#000" stroke-width="3" /><line x1="973.0" y1="1477.5" x2="983.0" y2="1522.5" stroke="#000" stroke-width="2.2" /><line x1="1243.0" y1="1522.5" x2="1255.5" y2="1570.0" stroke="#000" stroke-width="2.2" /><line x1="830.5" y1="1593.5" x2="878.0" y2="1597.5" stroke="#000" stroke-width="2.2" /><line x1="830.5" y1="1626.0" x2="878.0" y2="1609.0" stroke="#000" stroke-width="2.2" /><line x1="825.5" y1="1660.0" x2="870.5" y2="1648.5" stroke="#000" stroke-width="2.2" /><line x1="818.0" y1="1728.5" x2="862.0" y2="1717.5" stroke="#000" stroke-width="2.2" /><g style="filter:grayscale(1)"><text x="1077.5" y="246.5" text-anchor="middle" font-family="Liberation Sans" font-size="37">2</text><text x="1227.0" y="362.5" text-anchor="middle" font-family="Liberation Sans" font-size="37">28</text><text x="519.0" y="397.5" text-anchor="middle" font-family="Liberation Sans" font-size="37">31</text><text x="520.0" y="499.5" text-anchor="middle" font-family="Liberation Sans" font-size="37">26</text><text x="181.0" y="497.5" text-anchor="middle" font-family="Liberation Sans" font-size="37">13</text><text x="236.0" y="478.5" text-anchor="middle" font-family="Liberation Sans" font-size="37">71</text><text x="268.5" y="525.5" text-anchor="middle" font-family="Liberation Sans" font-size="37">28</text><text x="716.0" y="545.5" text-anchor="middle" font-family="Liberation Sans" font-size="37">24</text><text x="1371.5" y="582.5" text-anchor="middle" font-family="Liberation Sans" font-size="37">13</text><text x="153.0" y="629.5" text-anchor="middle" font-family="Liberation Sans" font-size="37">11</text><text x="361.0" y="634.5" text-anchor="middle" font-family="Liberation Sans" font-size="37">27</text><text x="1353.0" y="663.5" text-anchor="middle" font-family="Liberation Sans" font-size="37">71</text><text x="740.0" y="691.5" text-anchor="middle" font-family="Liberation Sans" font-size="37">25</text><text x="107.5" y="717.5" text-anchor="middle" font-family="Liberation Sans" font-size="37">10</text><text x="763.0" y="730.5" text-anchor="middle" font-family="Liberation Sans" font-size="37">23</text><text x="1039.0" y="752.5" text-anchor="middle" font-family="Liberation Sans" font-size="37">5</text><text x="1143.0" y="750.5" text-anchor="middle" font-family="Liberation Sans" font-size="37">4</text><text x="997.0" y="822.5" text-anchor="middle" font-family="Liberation Sans" font-size="37">6</text><text x="1080.5" y="839.5" text-anchor="middle" font-family="Liberation Sans" font-size="37">1</text><text x="624.5" y="897.5" text-anchor="middle" font-family="Liberation Sans" font-size="37">8</text><text x="1163.5" y="910.5" text-anchor="middle" font-family="Liberation Sans" font-size="37">7</text><text x="233.0" y="944.5" text-anchor="middle" font-family="Liberation Sans" font-size="37">29</text><text x="181.5" y="982.5" text-anchor="middle" font-family="Liberation Sans" font-size="37">5</text><text x="742.0" y="996.5" text-anchor="middle" font-family="Liberation Sans" font-size="37">20</text><text x="96.5" y="1083.5" text-anchor="middle" font-family="Liberation Sans" font-size="37">30</text><text x="363.0" y="1101.5" text-anchor="middle" font-family="Liberation Sans" font-size="37">9</text><text x="1050.5" y="1291.5" text-anchor="middle" font-family="Liberation Sans" font-size="37">8</text><text x="703.5" y="1389.5" text-anchor="middle" font-family="Liberation Sans" font-size="37">18</text><text x="694.0" y="1454.5" text-anchor="middle" font-family="Liberation Sans" font-size="37">19</text><text x="1343.5" y="1442.5" text-anchor="middle" font-family="Liberation Sans" font-size="37">13</text><text x="1335.0" y="1526.5" text-anchor="middle" font-family="Liberation Sans" font-size="37">71</text><text x="995.5" y="1559.5" text-anchor="middle" font-family="Liberation Sans" font-size="37">17</text><text x="1261.5" y="1607.5" text-anchor="middle" font-family="Liberation Sans" font-size="37">28</text><text x="550.0" y="1630.5" text-anchor="middle" font-family="Liberation Sans" font-size="37">28</text><text x="913.5" y="1616.5" text-anchor="middle" font-family="Liberation Sans" font-size="37">14</text><text x="898.5" y="1658.5" text-anchor="middle" font-family="Liberation Sans" font-size="37">15</text><text x="310.0" y="1707.5" text-anchor="middle" font-family="Liberation Sans" font-size="37">71</text><text x="234.5" y="1735.5" text-anchor="middle" font-family="Liberation Sans" font-size="37">13</text><text x="896.0" y="1727.5" text-anchor="middle" font-family="Liberation Sans" font-size="37">16</text></g></svg></body></html>
